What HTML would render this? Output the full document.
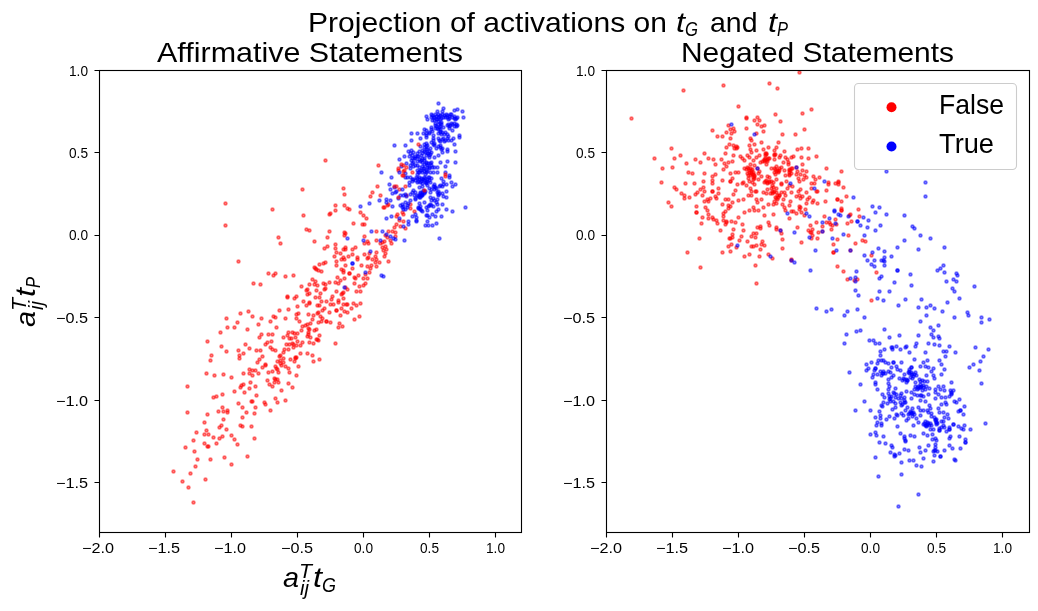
<!DOCTYPE html>
<html lang="en"><head><meta charset="utf-8"><title>Projection of activations on tG and tP</title>
<style>
html,body{margin:0;padding:0;background:#fff;}
body{width:1038px;height:611px;overflow:hidden;font-family:"Liberation Sans",sans-serif;}
svg{display:block;font-family:"Liberation Sans",sans-serif;}
text{fill:#000;}
.r circle{fill:#f00;fill-opacity:.5;stroke:#f00;stroke-opacity:.5;stroke-width:1.39;}
.b circle{fill:#00f;fill-opacity:.5;stroke:#00f;stroke-opacity:.5;stroke-width:1.39;}
.it{font-style:italic;}
.tx{filter:grayscale(1);}
</style></head><body>
<svg width="1038" height="611" viewBox="0 0 1038 611">
<rect x="0" y="0" width="1038" height="611" fill="#fff"/>
<!-- left panel: Affirmative Statements -->
<g id="left-panel">
<g class="r">
<circle cx="325.5" cy="160.5" r="1.55"/><circle cx="302.5" cy="189.5" r="1.55"/><circle cx="225.5" cy="203.5" r="1.55"/><circle cx="272.5" cy="209.5" r="1.55"/><circle cx="303.5" cy="215.5" r="1.55"/><circle cx="329.5" cy="214.5" r="1.55"/>
<circle cx="225.5" cy="225.5" r="1.55"/><circle cx="306.5" cy="229.5" r="1.55"/><circle cx="309.5" cy="230.5" r="1.55"/><circle cx="329.5" cy="231.5" r="1.55"/><circle cx="327.5" cy="237.5" r="1.55"/><circle cx="278.5" cy="237.5" r="1.55"/>
<circle cx="280.5" cy="243.5" r="1.55"/><circle cx="314.5" cy="241.5" r="1.55"/><circle cx="327.5" cy="246.5" r="1.55"/><circle cx="324.5" cy="248.5" r="1.55"/><circle cx="238.5" cy="261.5" r="1.55"/><circle cx="325.5" cy="262.5" r="1.55"/>
<circle cx="323.5" cy="263.5" r="1.55"/><circle cx="319.5" cy="264.5" r="1.55"/><circle cx="314.5" cy="267.5" r="1.55"/><circle cx="315.5" cy="268.5" r="1.55"/><circle cx="316.5" cy="269.5" r="1.55"/><circle cx="318.5" cy="270.5" r="1.55"/>
<circle cx="321.5" cy="271.5" r="1.55"/><circle cx="268.5" cy="273.5" r="1.55"/><circle cx="275.5" cy="273.5" r="1.55"/><circle cx="273.5" cy="275.5" r="1.55"/><circle cx="285.5" cy="276.5" r="1.55"/><circle cx="293.5" cy="275.5" r="1.55"/>
<circle cx="253.5" cy="283.5" r="1.55"/><circle cx="260.5" cy="284.5" r="1.55"/><circle cx="312.5" cy="279.5" r="1.55"/><circle cx="315.5" cy="281.5" r="1.55"/><circle cx="309.5" cy="284.5" r="1.55"/><circle cx="314.5" cy="284.5" r="1.55"/>
<circle cx="317.5" cy="285.5" r="1.55"/><circle cx="323.5" cy="283.5" r="1.55"/><circle cx="325.5" cy="284.5" r="1.55"/><circle cx="329.5" cy="282.5" r="1.55"/><circle cx="301.5" cy="286.5" r="1.55"/><circle cx="307.5" cy="289.5" r="1.55"/>
<circle cx="306.5" cy="290.5" r="1.55"/><circle cx="316.5" cy="290.5" r="1.55"/><circle cx="325.5" cy="288.5" r="1.55"/><circle cx="324.5" cy="289.5" r="1.55"/><circle cx="309.5" cy="293.5" r="1.55"/><circle cx="307.5" cy="294.5" r="1.55"/>
<circle cx="320.5" cy="293.5" r="1.55"/><circle cx="287.5" cy="296.5" r="1.55"/><circle cx="287.5" cy="297.5" r="1.55"/><circle cx="296.5" cy="296.5" r="1.55"/><circle cx="294.5" cy="298.5" r="1.55"/><circle cx="315.5" cy="297.5" r="1.55"/>
<circle cx="319.5" cy="297.5" r="1.55"/><circle cx="303.5" cy="301.5" r="1.55"/><circle cx="309.5" cy="302.5" r="1.55"/><circle cx="321.5" cy="301.5" r="1.55"/><circle cx="326.5" cy="301.5" r="1.55"/><circle cx="288.5" cy="309.5" r="1.55"/>
<circle cx="279.5" cy="310.5" r="1.55"/><circle cx="248.5" cy="311.5" r="1.55"/><circle cx="240.5" cy="313.5" r="1.55"/><circle cx="252.5" cy="316.5" r="1.55"/><circle cx="273.5" cy="316.5" r="1.55"/><circle cx="275.5" cy="317.5" r="1.55"/>
<circle cx="226.5" cy="318.5" r="1.55"/><circle cx="261.5" cy="318.5" r="1.55"/><circle cx="285.5" cy="318.5" r="1.55"/><circle cx="270.5" cy="321.5" r="1.55"/><circle cx="237.5" cy="322.5" r="1.55"/><circle cx="258.5" cy="324.5" r="1.55"/>
<circle cx="227.5" cy="327.5" r="1.55"/><circle cx="234.5" cy="327.5" r="1.55"/><circle cx="276.5" cy="327.5" r="1.55"/><circle cx="247.5" cy="329.5" r="1.55"/><circle cx="220.5" cy="332.5" r="1.55"/><circle cx="288.5" cy="332.5" r="1.55"/>
<circle cx="261.5" cy="334.5" r="1.55"/><circle cx="268.5" cy="334.5" r="1.55"/><circle cx="272.5" cy="334.5" r="1.55"/><circle cx="287.5" cy="335.5" r="1.55"/><circle cx="283.5" cy="337.5" r="1.55"/><circle cx="259.5" cy="337.5" r="1.55"/>
<circle cx="289.5" cy="338.5" r="1.55"/><circle cx="207.5" cy="341.5" r="1.55"/><circle cx="271.5" cy="341.5" r="1.55"/><circle cx="267.5" cy="342.5" r="1.55"/><circle cx="265.5" cy="344.5" r="1.55"/><circle cx="245.5" cy="344.5" r="1.55"/>
<circle cx="286.5" cy="344.5" r="1.55"/><circle cx="289.5" cy="344.5" r="1.55"/><circle cx="221.5" cy="346.5" r="1.55"/><circle cx="270.5" cy="347.5" r="1.55"/><circle cx="249.5" cy="348.5" r="1.55"/><circle cx="272.5" cy="349.5" r="1.55"/>
<circle cx="284.5" cy="349.5" r="1.55"/><circle cx="288.5" cy="349.5" r="1.55"/><circle cx="256.5" cy="350.5" r="1.55"/><circle cx="260.5" cy="350.5" r="1.55"/><circle cx="275.5" cy="350.5" r="1.55"/><circle cx="238.5" cy="350.5" r="1.55"/>
<circle cx="226.5" cy="351.5" r="1.55"/><circle cx="283.5" cy="352.5" r="1.55"/><circle cx="243.5" cy="353.5" r="1.55"/><circle cx="211.5" cy="355.5" r="1.55"/><circle cx="239.5" cy="355.5" r="1.55"/><circle cx="280.5" cy="355.5" r="1.55"/>
<circle cx="262.5" cy="356.5" r="1.55"/><circle cx="279.5" cy="356.5" r="1.55"/><circle cx="283.5" cy="358.5" r="1.55"/><circle cx="239.5" cy="358.5" r="1.55"/><circle cx="290.5" cy="359.5" r="1.55"/><circle cx="210.5" cy="360.5" r="1.55"/>
<circle cx="259.5" cy="359.5" r="1.55"/><circle cx="257.5" cy="362.5" r="1.55"/><circle cx="277.5" cy="361.5" r="1.55"/><circle cx="280.5" cy="360.5" r="1.55"/><circle cx="283.5" cy="362.5" r="1.55"/><circle cx="280.5" cy="363.5" r="1.55"/>
<circle cx="265.5" cy="364.5" r="1.55"/><circle cx="265.5" cy="365.5" r="1.55"/><circle cx="281.5" cy="365.5" r="1.55"/><circle cx="285.5" cy="366.5" r="1.55"/><circle cx="275.5" cy="366.5" r="1.55"/><circle cx="262.5" cy="367.5" r="1.55"/>
<circle cx="276.5" cy="368.5" r="1.55"/><circle cx="277.5" cy="369.5" r="1.55"/><circle cx="288.5" cy="368.5" r="1.55"/><circle cx="249.5" cy="369.5" r="1.55"/><circle cx="252.5" cy="370.5" r="1.55"/><circle cx="255.5" cy="370.5" r="1.55"/>
<circle cx="206.5" cy="373.5" r="1.55"/><circle cx="243.5" cy="373.5" r="1.55"/><circle cx="249.5" cy="373.5" r="1.55"/><circle cx="258.5" cy="373.5" r="1.55"/><circle cx="268.5" cy="372.5" r="1.55"/><circle cx="272.5" cy="371.5" r="1.55"/>
<circle cx="278.5" cy="372.5" r="1.55"/><circle cx="289.5" cy="372.5" r="1.55"/><circle cx="223.5" cy="374.5" r="1.55"/><circle cx="214.5" cy="375.5" r="1.55"/><circle cx="252.5" cy="375.5" r="1.55"/><circle cx="231.5" cy="377.5" r="1.55"/>
<circle cx="274.5" cy="378.5" r="1.55"/><circle cx="267.5" cy="380.5" r="1.55"/><circle cx="275.5" cy="379.5" r="1.55"/><circle cx="277.5" cy="379.5" r="1.55"/><circle cx="274.5" cy="382.5" r="1.55"/><circle cx="278.5" cy="382.5" r="1.55"/>
<circle cx="269.5" cy="384.5" r="1.55"/><circle cx="272.5" cy="386.5" r="1.55"/><circle cx="288.5" cy="383.5" r="1.55"/><circle cx="250.5" cy="382.5" r="1.55"/><circle cx="243.5" cy="384.5" r="1.55"/><circle cx="241.5" cy="385.5" r="1.55"/>
<circle cx="255.5" cy="386.5" r="1.55"/><circle cx="240.5" cy="387.5" r="1.55"/><circle cx="249.5" cy="388.5" r="1.55"/><circle cx="281.5" cy="390.5" r="1.55"/><circle cx="187.5" cy="386.5" r="1.55"/><circle cx="234.5" cy="391.5" r="1.55"/>
<circle cx="244.5" cy="392.5" r="1.55"/><circle cx="222.5" cy="394.5" r="1.55"/><circle cx="216.5" cy="396.5" r="1.55"/><circle cx="213.5" cy="397.5" r="1.55"/><circle cx="256.5" cy="395.5" r="1.55"/><circle cx="275.5" cy="398.5" r="1.55"/>
<circle cx="285.5" cy="400.5" r="1.55"/><circle cx="277.5" cy="402.5" r="1.55"/><circle cx="264.5" cy="402.5" r="1.55"/><circle cx="265.5" cy="404.5" r="1.55"/><circle cx="251.5" cy="401.5" r="1.55"/><circle cx="252.5" cy="401.5" r="1.55"/>
<circle cx="238.5" cy="403.5" r="1.55"/><circle cx="255.5" cy="407.5" r="1.55"/><circle cx="242.5" cy="407.5" r="1.55"/><circle cx="222.5" cy="407.5" r="1.55"/><circle cx="270.5" cy="410.5" r="1.55"/><circle cx="227.5" cy="410.5" r="1.55"/>
<circle cx="227.5" cy="412.5" r="1.55"/><circle cx="223.5" cy="411.5" r="1.55"/><circle cx="218.5" cy="411.5" r="1.55"/><circle cx="246.5" cy="412.5" r="1.55"/><circle cx="254.5" cy="413.5" r="1.55"/><circle cx="187.5" cy="412.5" r="1.55"/>
<circle cx="207.5" cy="414.5" r="1.55"/><circle cx="242.5" cy="417.5" r="1.55"/><circle cx="223.5" cy="419.5" r="1.55"/><circle cx="204.5" cy="422.5" r="1.55"/><circle cx="240.5" cy="425.5" r="1.55"/><circle cx="242.5" cy="426.5" r="1.55"/>
<circle cx="251.5" cy="426.5" r="1.55"/><circle cx="221.5" cy="425.5" r="1.55"/><circle cx="219.5" cy="427.5" r="1.55"/><circle cx="226.5" cy="429.5" r="1.55"/><circle cx="206.5" cy="430.5" r="1.55"/><circle cx="196.5" cy="432.5" r="1.55"/>
<circle cx="204.5" cy="434.5" r="1.55"/><circle cx="208.5" cy="434.5" r="1.55"/><circle cx="231.5" cy="435.5" r="1.55"/><circle cx="222.5" cy="436.5" r="1.55"/><circle cx="219.5" cy="438.5" r="1.55"/><circle cx="213.5" cy="437.5" r="1.55"/>
<circle cx="254.5" cy="438.5" r="1.55"/><circle cx="234.5" cy="439.5" r="1.55"/><circle cx="193.5" cy="440.5" r="1.55"/><circle cx="204.5" cy="443.5" r="1.55"/><circle cx="216.5" cy="443.5" r="1.55"/><circle cx="237.5" cy="444.5" r="1.55"/>
<circle cx="207.5" cy="446.5" r="1.55"/><circle cx="208.5" cy="446.5" r="1.55"/><circle cx="185.5" cy="447.5" r="1.55"/><circle cx="194.5" cy="451.5" r="1.55"/><circle cx="197.5" cy="459.5" r="1.55"/><circle cx="210.5" cy="459.5" r="1.55"/>
<circle cx="224.5" cy="457.5" r="1.55"/><circle cx="247.5" cy="456.5" r="1.55"/><circle cx="231.5" cy="464.5" r="1.55"/><circle cx="195.5" cy="466.5" r="1.55"/><circle cx="173.5" cy="471.5" r="1.55"/><circle cx="190.5" cy="473.5" r="1.55"/>
<circle cx="205.5" cy="479.5" r="1.55"/><circle cx="182.5" cy="481.5" r="1.55"/><circle cx="188.5" cy="487.5" r="1.55"/><circle cx="193.5" cy="502.5" r="1.55"/><circle cx="292.5" cy="387.5" r="1.55"/><circle cx="309.5" cy="303.5" r="1.55"/>
<circle cx="306.5" cy="305.5" r="1.55"/><circle cx="297.5" cy="306.5" r="1.55"/><circle cx="317.5" cy="305.5" r="1.55"/><circle cx="319.5" cy="305.5" r="1.55"/><circle cx="330.5" cy="304.5" r="1.55"/><circle cx="333.5" cy="304.5" r="1.55"/>
<circle cx="338.5" cy="302.5" r="1.55"/><circle cx="343.5" cy="304.5" r="1.55"/><circle cx="346.5" cy="304.5" r="1.55"/><circle cx="347.5" cy="304.5" r="1.55"/><circle cx="353.5" cy="303.5" r="1.55"/><circle cx="356.5" cy="305.5" r="1.55"/>
<circle cx="360.5" cy="303.5" r="1.55"/><circle cx="324.5" cy="308.5" r="1.55"/><circle cx="322.5" cy="310.5" r="1.55"/><circle cx="318.5" cy="312.5" r="1.55"/><circle cx="317.5" cy="313.5" r="1.55"/><circle cx="336.5" cy="310.5" r="1.55"/>
<circle cx="336.5" cy="310.5" r="1.55"/><circle cx="341.5" cy="308.5" r="1.55"/><circle cx="344.5" cy="311.5" r="1.55"/><circle cx="347.5" cy="312.5" r="1.55"/><circle cx="351.5" cy="308.5" r="1.55"/><circle cx="329.5" cy="312.5" r="1.55"/>
<circle cx="340.5" cy="315.5" r="1.55"/><circle cx="298.5" cy="313.5" r="1.55"/><circle cx="296.5" cy="314.5" r="1.55"/><circle cx="296.5" cy="318.5" r="1.55"/><circle cx="308.5" cy="314.5" r="1.55"/><circle cx="313.5" cy="315.5" r="1.55"/>
<circle cx="320.5" cy="316.5" r="1.55"/><circle cx="322.5" cy="318.5" r="1.55"/><circle cx="312.5" cy="319.5" r="1.55"/><circle cx="299.5" cy="321.5" r="1.55"/><circle cx="359.5" cy="316.5" r="1.55"/><circle cx="354.5" cy="319.5" r="1.55"/>
<circle cx="321.5" cy="321.5" r="1.55"/><circle cx="318.5" cy="322.5" r="1.55"/><circle cx="326.5" cy="321.5" r="1.55"/><circle cx="326.5" cy="321.5" r="1.55"/><circle cx="330.5" cy="322.5" r="1.55"/><circle cx="339.5" cy="323.5" r="1.55"/>
<circle cx="342.5" cy="326.5" r="1.55"/><circle cx="338.5" cy="327.5" r="1.55"/><circle cx="310.5" cy="323.5" r="1.55"/><circle cx="307.5" cy="324.5" r="1.55"/><circle cx="305.5" cy="325.5" r="1.55"/><circle cx="302.5" cy="326.5" r="1.55"/>
<circle cx="308.5" cy="328.5" r="1.55"/><circle cx="309.5" cy="329.5" r="1.55"/><circle cx="301.5" cy="330.5" r="1.55"/><circle cx="314.5" cy="330.5" r="1.55"/><circle cx="316.5" cy="329.5" r="1.55"/><circle cx="292.5" cy="332.5" r="1.55"/>
<circle cx="294.5" cy="333.5" r="1.55"/><circle cx="297.5" cy="333.5" r="1.55"/><circle cx="308.5" cy="332.5" r="1.55"/><circle cx="308.5" cy="334.5" r="1.55"/><circle cx="307.5" cy="336.5" r="1.55"/><circle cx="319.5" cy="335.5" r="1.55"/>
<circle cx="295.5" cy="337.5" r="1.55"/><circle cx="310.5" cy="337.5" r="1.55"/><circle cx="316.5" cy="339.5" r="1.55"/><circle cx="318.5" cy="340.5" r="1.55"/><circle cx="317.5" cy="339.5" r="1.55"/><circle cx="291.5" cy="338.5" r="1.55"/>
<circle cx="297.5" cy="341.5" r="1.55"/><circle cx="302.5" cy="342.5" r="1.55"/><circle cx="309.5" cy="342.5" r="1.55"/><circle cx="313.5" cy="343.5" r="1.55"/><circle cx="292.5" cy="343.5" r="1.55"/><circle cx="293.5" cy="344.5" r="1.55"/>
<circle cx="335.5" cy="343.5" r="1.55"/><circle cx="296.5" cy="345.5" r="1.55"/><circle cx="300.5" cy="345.5" r="1.55"/><circle cx="293.5" cy="347.5" r="1.55"/><circle cx="300.5" cy="353.5" r="1.55"/><circle cx="307.5" cy="353.5" r="1.55"/>
<circle cx="312.5" cy="355.5" r="1.55"/><circle cx="319.5" cy="359.5" r="1.55"/><circle cx="313.5" cy="361.5" r="1.55"/><circle cx="295.5" cy="357.5" r="1.55"/><circle cx="295.5" cy="358.5" r="1.55"/><circle cx="296.5" cy="357.5" r="1.55"/>
<circle cx="294.5" cy="361.5" r="1.55"/><circle cx="298.5" cy="366.5" r="1.55"/><circle cx="296.5" cy="375.5" r="1.55"/><circle cx="336.5" cy="261.5" r="1.55"/><circle cx="336.5" cy="265.5" r="1.55"/><circle cx="341.5" cy="259.5" r="1.55"/>
<circle cx="344.5" cy="259.5" r="1.55"/><circle cx="357.5" cy="259.5" r="1.55"/><circle cx="345.5" cy="265.5" r="1.55"/><circle cx="361.5" cy="265.5" r="1.55"/><circle cx="352.5" cy="268.5" r="1.55"/><circle cx="341.5" cy="269.5" r="1.55"/>
<circle cx="343.5" cy="270.5" r="1.55"/><circle cx="343.5" cy="272.5" r="1.55"/><circle cx="349.5" cy="273.5" r="1.55"/><circle cx="349.5" cy="273.5" r="1.55"/><circle cx="358.5" cy="275.5" r="1.55"/><circle cx="354.5" cy="277.5" r="1.55"/>
<circle cx="355.5" cy="278.5" r="1.55"/><circle cx="337.5" cy="277.5" r="1.55"/><circle cx="344.5" cy="278.5" r="1.55"/><circle cx="340.5" cy="280.5" r="1.55"/><circle cx="363.5" cy="278.5" r="1.55"/><circle cx="365.5" cy="274.5" r="1.55"/>
<circle cx="335.5" cy="282.5" r="1.55"/><circle cx="338.5" cy="283.5" r="1.55"/><circle cx="354.5" cy="283.5" r="1.55"/><circle cx="365.5" cy="283.5" r="1.55"/><circle cx="363.5" cy="285.5" r="1.55"/><circle cx="359.5" cy="286.5" r="1.55"/>
<circle cx="345.5" cy="287.5" r="1.55"/><circle cx="347.5" cy="289.5" r="1.55"/><circle cx="336.5" cy="291.5" r="1.55"/><circle cx="356.5" cy="291.5" r="1.55"/><circle cx="360.5" cy="291.5" r="1.55"/><circle cx="343.5" cy="292.5" r="1.55"/>
<circle cx="341.5" cy="294.5" r="1.55"/><circle cx="342.5" cy="293.5" r="1.55"/><circle cx="332.5" cy="296.5" r="1.55"/><circle cx="343.5" cy="298.5" r="1.55"/><circle cx="331.5" cy="299.5" r="1.55"/><circle cx="338.5" cy="300.5" r="1.55"/>
<circle cx="363.5" cy="215.5" r="1.55"/><circle cx="366.5" cy="218.5" r="1.55"/><circle cx="353.5" cy="223.5" r="1.55"/><circle cx="362.5" cy="224.5" r="1.55"/><circle cx="364.5" cy="224.5" r="1.55"/><circle cx="344.5" cy="232.5" r="1.55"/>
<circle cx="344.5" cy="235.5" r="1.55"/><circle cx="345.5" cy="233.5" r="1.55"/><circle cx="396.5" cy="216.5" r="1.55"/><circle cx="399.5" cy="220.5" r="1.55"/><circle cx="403.5" cy="221.5" r="1.55"/><circle cx="403.5" cy="214.5" r="1.55"/>
<circle cx="396.5" cy="224.5" r="1.55"/><circle cx="400.5" cy="226.5" r="1.55"/><circle cx="394.5" cy="227.5" r="1.55"/><circle cx="405.5" cy="228.5" r="1.55"/><circle cx="376.5" cy="231.5" r="1.55"/><circle cx="388.5" cy="231.5" r="1.55"/>
<circle cx="392.5" cy="231.5" r="1.55"/><circle cx="395.5" cy="232.5" r="1.55"/><circle cx="385.5" cy="235.5" r="1.55"/><circle cx="395.5" cy="236.5" r="1.55"/><circle cx="387.5" cy="237.5" r="1.55"/><circle cx="390.5" cy="240.5" r="1.55"/>
<circle cx="391.5" cy="243.5" r="1.55"/><circle cx="364.5" cy="236.5" r="1.55"/><circle cx="376.5" cy="240.5" r="1.55"/><circle cx="367.5" cy="241.5" r="1.55"/><circle cx="364.5" cy="243.5" r="1.55"/><circle cx="368.5" cy="243.5" r="1.55"/>
<circle cx="384.5" cy="241.5" r="1.55"/><circle cx="380.5" cy="243.5" r="1.55"/><circle cx="382.5" cy="242.5" r="1.55"/><circle cx="335.5" cy="244.5" r="1.55"/><circle cx="335.5" cy="248.5" r="1.55"/><circle cx="345.5" cy="247.5" r="1.55"/>
<circle cx="343.5" cy="249.5" r="1.55"/><circle cx="345.5" cy="249.5" r="1.55"/><circle cx="355.5" cy="247.5" r="1.55"/><circle cx="352.5" cy="249.5" r="1.55"/><circle cx="382.5" cy="247.5" r="1.55"/><circle cx="385.5" cy="246.5" r="1.55"/>
<circle cx="386.5" cy="249.5" r="1.55"/><circle cx="383.5" cy="250.5" r="1.55"/><circle cx="376.5" cy="252.5" r="1.55"/><circle cx="385.5" cy="253.5" r="1.55"/><circle cx="336.5" cy="252.5" r="1.55"/><circle cx="340.5" cy="253.5" r="1.55"/>
<circle cx="352.5" cy="254.5" r="1.55"/><circle cx="348.5" cy="256.5" r="1.55"/><circle cx="334.5" cy="256.5" r="1.55"/><circle cx="343.5" cy="257.5" r="1.55"/><circle cx="364.5" cy="254.5" r="1.55"/><circle cx="369.5" cy="253.5" r="1.55"/>
<circle cx="368.5" cy="257.5" r="1.55"/><circle cx="375.5" cy="256.5" r="1.55"/><circle cx="384.5" cy="256.5" r="1.55"/><circle cx="357.5" cy="257.5" r="1.55"/><circle cx="367.5" cy="258.5" r="1.55"/><circle cx="372.5" cy="259.5" r="1.55"/>
<circle cx="376.5" cy="259.5" r="1.55"/><circle cx="375.5" cy="262.5" r="1.55"/><circle cx="379.5" cy="262.5" r="1.55"/><circle cx="388.5" cy="261.5" r="1.55"/><circle cx="371.5" cy="265.5" r="1.55"/><circle cx="367.5" cy="266.5" r="1.55"/>
<circle cx="376.5" cy="266.5" r="1.55"/><circle cx="370.5" cy="268.5" r="1.55"/><circle cx="369.5" cy="272.5" r="1.55"/><circle cx="367.5" cy="278.5" r="1.55"/><circle cx="343.5" cy="188.5" r="1.55"/><circle cx="344.5" cy="194.5" r="1.55"/>
<circle cx="335.5" cy="205.5" r="1.55"/><circle cx="335.5" cy="210.5" r="1.55"/><circle cx="344.5" cy="205.5" r="1.55"/><circle cx="347.5" cy="208.5" r="1.55"/><circle cx="349.5" cy="209.5" r="1.55"/><circle cx="330.5" cy="213.5" r="1.55"/>
<circle cx="377.5" cy="186.5" r="1.55"/><circle cx="372.5" cy="192.5" r="1.55"/><circle cx="370.5" cy="196.5" r="1.55"/><circle cx="380.5" cy="195.5" r="1.55"/><circle cx="360.5" cy="212.5" r="1.55"/><circle cx="388.5" cy="204.5" r="1.55"/>
<circle cx="387.5" cy="205.5" r="1.55"/><circle cx="383.5" cy="207.5" r="1.55"/><circle cx="384.5" cy="207.5" r="1.55"/><circle cx="402.5" cy="175.5" r="1.55"/><circle cx="403.5" cy="171.5" r="1.55"/><circle cx="398.5" cy="170.5" r="1.55"/>
<circle cx="399.5" cy="189.5" r="1.55"/><circle cx="405.5" cy="186.5" r="1.55"/><circle cx="402.5" cy="212.5" r="1.55"/><circle cx="396.5" cy="186.5" r="1.55"/><circle cx="414.5" cy="211.5" r="1.55"/><circle cx="410.5" cy="208.5" r="1.55"/>
<circle cx="410.5" cy="204.5" r="1.55"/><circle cx="445.5" cy="176.5" r="1.55"/><circle cx="397.5" cy="214.5" r="1.55"/><circle cx="406.5" cy="195.5" r="1.55"/><circle cx="378.5" cy="165.5" r="1.55"/>
</g>
<g class="b">
<circle cx="352.5" cy="263.5" r="1.55"/><circle cx="352.5" cy="263.5" r="1.55"/><circle cx="344.5" cy="287.5" r="1.55"/><circle cx="365.5" cy="272.5" r="1.55"/><circle cx="386.5" cy="218.5" r="1.55"/><circle cx="391.5" cy="216.5" r="1.55"/>
<circle cx="399.5" cy="218.5" r="1.55"/><circle cx="403.5" cy="226.5" r="1.55"/><circle cx="371.5" cy="231.5" r="1.55"/><circle cx="382.5" cy="231.5" r="1.55"/><circle cx="386.5" cy="234.5" r="1.55"/><circle cx="390.5" cy="236.5" r="1.55"/>
<circle cx="393.5" cy="238.5" r="1.55"/><circle cx="395.5" cy="239.5" r="1.55"/><circle cx="404.5" cy="240.5" r="1.55"/><circle cx="347.5" cy="238.5" r="1.55"/><circle cx="363.5" cy="240.5" r="1.55"/><circle cx="380.5" cy="240.5" r="1.55"/>
<circle cx="370.5" cy="251.5" r="1.55"/><circle cx="381.5" cy="275.5" r="1.55"/><circle cx="383.5" cy="276.5" r="1.55"/><circle cx="381.5" cy="172.5" r="1.55"/><circle cx="399.5" cy="172.5" r="1.55"/><circle cx="391.5" cy="177.5" r="1.55"/>
<circle cx="389.5" cy="184.5" r="1.55"/><circle cx="390.5" cy="189.5" r="1.55"/><circle cx="394.5" cy="187.5" r="1.55"/><circle cx="402.5" cy="189.5" r="1.55"/><circle cx="396.5" cy="191.5" r="1.55"/><circle cx="392.5" cy="193.5" r="1.55"/>
<circle cx="395.5" cy="192.5" r="1.55"/><circle cx="386.5" cy="199.5" r="1.55"/><circle cx="390.5" cy="200.5" r="1.55"/><circle cx="379.5" cy="200.5" r="1.55"/><circle cx="386.5" cy="202.5" r="1.55"/><circle cx="392.5" cy="206.5" r="1.55"/>
<circle cx="398.5" cy="198.5" r="1.55"/><circle cx="400.5" cy="195.5" r="1.55"/><circle cx="403.5" cy="195.5" r="1.55"/><circle cx="405.5" cy="194.5" r="1.55"/><circle cx="369.5" cy="203.5" r="1.55"/><circle cx="360.5" cy="206.5" r="1.55"/>
<circle cx="400.5" cy="205.5" r="1.55"/><circle cx="402.5" cy="204.5" r="1.55"/><circle cx="405.5" cy="202.5" r="1.55"/><circle cx="402.5" cy="207.5" r="1.55"/><circle cx="403.5" cy="206.5" r="1.55"/><circle cx="403.5" cy="209.5" r="1.55"/>
<circle cx="405.5" cy="209.5" r="1.55"/><circle cx="405.5" cy="177.5" r="1.55"/><circle cx="412.5" cy="216.5" r="1.55"/><circle cx="416.5" cy="217.5" r="1.55"/><circle cx="416.5" cy="221.5" r="1.55"/><circle cx="416.5" cy="220.5" r="1.55"/>
<circle cx="408.5" cy="221.5" r="1.55"/><circle cx="408.5" cy="224.5" r="1.55"/><circle cx="415.5" cy="214.5" r="1.55"/><circle cx="426.5" cy="215.5" r="1.55"/><circle cx="427.5" cy="215.5" r="1.55"/><circle cx="429.5" cy="217.5" r="1.55"/>
<circle cx="432.5" cy="214.5" r="1.55"/><circle cx="435.5" cy="216.5" r="1.55"/><circle cx="441.5" cy="216.5" r="1.55"/><circle cx="427.5" cy="221.5" r="1.55"/><circle cx="425.5" cy="225.5" r="1.55"/><circle cx="428.5" cy="225.5" r="1.55"/>
<circle cx="432.5" cy="225.5" r="1.55"/><circle cx="436.5" cy="223.5" r="1.55"/><circle cx="439.5" cy="238.5" r="1.55"/><circle cx="441.5" cy="178.5" r="1.55"/><circle cx="443.5" cy="181.5" r="1.55"/><circle cx="449.5" cy="177.5" r="1.55"/>
<circle cx="451.5" cy="182.5" r="1.55"/><circle cx="455.5" cy="184.5" r="1.55"/><circle cx="452.5" cy="186.5" r="1.55"/><circle cx="446.5" cy="184.5" r="1.55"/><circle cx="446.5" cy="191.5" r="1.55"/><circle cx="442.5" cy="186.5" r="1.55"/>
<circle cx="439.5" cy="186.5" r="1.55"/><circle cx="434.5" cy="184.5" r="1.55"/><circle cx="434.5" cy="186.5" r="1.55"/><circle cx="431.5" cy="178.5" r="1.55"/><circle cx="426.5" cy="182.5" r="1.55"/><circle cx="430.5" cy="182.5" r="1.55"/>
<circle cx="429.5" cy="177.5" r="1.55"/><circle cx="417.5" cy="178.5" r="1.55"/><circle cx="419.5" cy="177.5" r="1.55"/><circle cx="422.5" cy="179.5" r="1.55"/><circle cx="424.5" cy="177.5" r="1.55"/><circle cx="427.5" cy="179.5" r="1.55"/>
<circle cx="418.5" cy="181.5" r="1.55"/><circle cx="421.5" cy="181.5" r="1.55"/><circle cx="424.5" cy="180.5" r="1.55"/><circle cx="426.5" cy="183.5" r="1.55"/><circle cx="415.5" cy="180.5" r="1.55"/><circle cx="412.5" cy="181.5" r="1.55"/>
<circle cx="409.5" cy="182.5" r="1.55"/><circle cx="407.5" cy="177.5" r="1.55"/><circle cx="410.5" cy="177.5" r="1.55"/><circle cx="409.5" cy="185.5" r="1.55"/><circle cx="419.5" cy="187.5" r="1.55"/><circle cx="413.5" cy="190.5" r="1.55"/>
<circle cx="422.5" cy="186.5" r="1.55"/><circle cx="427.5" cy="185.5" r="1.55"/><circle cx="429.5" cy="188.5" r="1.55"/><circle cx="431.5" cy="189.5" r="1.55"/><circle cx="430.5" cy="192.5" r="1.55"/><circle cx="434.5" cy="189.5" r="1.55"/>
<circle cx="436.5" cy="188.5" r="1.55"/><circle cx="438.5" cy="191.5" r="1.55"/><circle cx="438.5" cy="194.5" r="1.55"/><circle cx="442.5" cy="193.5" r="1.55"/><circle cx="443.5" cy="196.5" r="1.55"/><circle cx="446.5" cy="197.5" r="1.55"/>
<circle cx="420.5" cy="192.5" r="1.55"/><circle cx="422.5" cy="194.5" r="1.55"/><circle cx="424.5" cy="192.5" r="1.55"/><circle cx="421.5" cy="195.5" r="1.55"/><circle cx="419.5" cy="197.5" r="1.55"/><circle cx="417.5" cy="195.5" r="1.55"/>
<circle cx="423.5" cy="190.5" r="1.55"/><circle cx="415.5" cy="192.5" r="1.55"/><circle cx="412.5" cy="192.5" r="1.55"/><circle cx="410.5" cy="194.5" r="1.55"/><circle cx="414.5" cy="195.5" r="1.55"/><circle cx="415.5" cy="198.5" r="1.55"/>
<circle cx="415.5" cy="199.5" r="1.55"/><circle cx="406.5" cy="196.5" r="1.55"/><circle cx="410.5" cy="200.5" r="1.55"/><circle cx="430.5" cy="197.5" r="1.55"/><circle cx="433.5" cy="198.5" r="1.55"/><circle cx="437.5" cy="199.5" r="1.55"/>
<circle cx="431.5" cy="200.5" r="1.55"/><circle cx="434.5" cy="200.5" r="1.55"/><circle cx="436.5" cy="202.5" r="1.55"/><circle cx="437.5" cy="204.5" r="1.55"/><circle cx="419.5" cy="203.5" r="1.55"/><circle cx="424.5" cy="202.5" r="1.55"/>
<circle cx="442.5" cy="204.5" r="1.55"/><circle cx="431.5" cy="205.5" r="1.55"/><circle cx="429.5" cy="205.5" r="1.55"/><circle cx="433.5" cy="206.5" r="1.55"/><circle cx="426.5" cy="207.5" r="1.55"/><circle cx="427.5" cy="210.5" r="1.55"/>
<circle cx="420.5" cy="206.5" r="1.55"/><circle cx="418.5" cy="208.5" r="1.55"/><circle cx="420.5" cy="209.5" r="1.55"/><circle cx="422.5" cy="211.5" r="1.55"/><circle cx="438.5" cy="209.5" r="1.55"/><circle cx="436.5" cy="211.5" r="1.55"/>
<circle cx="446.5" cy="209.5" r="1.55"/><circle cx="452.5" cy="211.5" r="1.55"/><circle cx="407.5" cy="205.5" r="1.55"/><circle cx="407.5" cy="207.5" r="1.55"/><circle cx="408.5" cy="203.5" r="1.55"/><circle cx="416.5" cy="177.5" r="1.55"/>
<circle cx="419.5" cy="179.5" r="1.55"/><circle cx="421.5" cy="178.5" r="1.55"/><circle cx="423.5" cy="179.5" r="1.55"/><circle cx="425.5" cy="178.5" r="1.55"/><circle cx="428.5" cy="177.5" r="1.55"/><circle cx="420.5" cy="182.5" r="1.55"/>
<circle cx="422.5" cy="183.5" r="1.55"/><circle cx="425.5" cy="182.5" r="1.55"/><circle cx="427.5" cy="181.5" r="1.55"/><circle cx="429.5" cy="180.5" r="1.55"/><circle cx="413.5" cy="179.5" r="1.55"/><circle cx="412.5" cy="179.5" r="1.55"/>
<circle cx="417.5" cy="182.5" r="1.55"/><circle cx="420.5" cy="193.5" r="1.55"/><circle cx="422.5" cy="192.5" r="1.55"/><circle cx="424.5" cy="193.5" r="1.55"/><circle cx="421.5" cy="195.5" r="1.55"/><circle cx="422.5" cy="195.5" r="1.55"/>
<circle cx="419.5" cy="195.5" r="1.55"/><circle cx="420.5" cy="197.5" r="1.55"/><circle cx="418.5" cy="196.5" r="1.55"/><circle cx="425.5" cy="191.5" r="1.55"/><circle cx="437.5" cy="192.5" r="1.55"/><circle cx="439.5" cy="193.5" r="1.55"/>
<circle cx="438.5" cy="195.5" r="1.55"/><circle cx="418.5" cy="207.5" r="1.55"/><circle cx="419.5" cy="208.5" r="1.55"/><circle cx="421.5" cy="210.5" r="1.55"/><circle cx="430.5" cy="204.5" r="1.55"/><circle cx="428.5" cy="206.5" r="1.55"/>
<circle cx="433.5" cy="186.5" r="1.55"/><circle cx="435.5" cy="187.5" r="1.55"/><circle cx="440.5" cy="185.5" r="1.55"/><circle cx="443.5" cy="184.5" r="1.55"/><circle cx="411.5" cy="140.5" r="1.55"/><circle cx="420.5" cy="138.5" r="1.55"/>
<circle cx="405.5" cy="145.5" r="1.55"/><circle cx="426.5" cy="137.5" r="1.55"/><circle cx="433.5" cy="138.5" r="1.55"/><circle cx="431.5" cy="142.5" r="1.55"/><circle cx="434.5" cy="143.5" r="1.55"/><circle cx="426.5" cy="143.5" r="1.55"/>
<circle cx="439.5" cy="140.5" r="1.55"/><circle cx="442.5" cy="139.5" r="1.55"/><circle cx="444.5" cy="141.5" r="1.55"/><circle cx="447.5" cy="138.5" r="1.55"/><circle cx="451.5" cy="140.5" r="1.55"/><circle cx="453.5" cy="138.5" r="1.55"/>
<circle cx="454.5" cy="144.5" r="1.55"/><circle cx="459.5" cy="137.5" r="1.55"/><circle cx="420.5" cy="146.5" r="1.55"/><circle cx="424.5" cy="147.5" r="1.55"/><circle cx="427.5" cy="145.5" r="1.55"/><circle cx="430.5" cy="148.5" r="1.55"/>
<circle cx="436.5" cy="148.5" r="1.55"/><circle cx="440.5" cy="147.5" r="1.55"/><circle cx="442.5" cy="148.5" r="1.55"/><circle cx="447.5" cy="149.5" r="1.55"/><circle cx="447.5" cy="151.5" r="1.55"/><circle cx="455.5" cy="151.5" r="1.55"/>
<circle cx="442.5" cy="152.5" r="1.55"/><circle cx="438.5" cy="155.5" r="1.55"/><circle cx="408.5" cy="151.5" r="1.55"/><circle cx="411.5" cy="150.5" r="1.55"/><circle cx="413.5" cy="152.5" r="1.55"/><circle cx="409.5" cy="156.5" r="1.55"/>
<circle cx="404.5" cy="156.5" r="1.55"/><circle cx="399.5" cy="159.5" r="1.55"/><circle cx="417.5" cy="153.5" r="1.55"/><circle cx="419.5" cy="151.5" r="1.55"/><circle cx="422.5" cy="150.5" r="1.55"/><circle cx="425.5" cy="152.5" r="1.55"/>
<circle cx="428.5" cy="153.5" r="1.55"/><circle cx="430.5" cy="154.5" r="1.55"/><circle cx="429.5" cy="157.5" r="1.55"/><circle cx="434.5" cy="157.5" r="1.55"/><circle cx="426.5" cy="155.5" r="1.55"/><circle cx="421.5" cy="155.5" r="1.55"/>
<circle cx="418.5" cy="156.5" r="1.55"/><circle cx="415.5" cy="158.5" r="1.55"/><circle cx="415.5" cy="156.5" r="1.55"/><circle cx="411.5" cy="160.5" r="1.55"/><circle cx="413.5" cy="162.5" r="1.55"/><circle cx="406.5" cy="163.5" r="1.55"/>
<circle cx="421.5" cy="160.5" r="1.55"/><circle cx="424.5" cy="158.5" r="1.55"/><circle cx="426.5" cy="162.5" r="1.55"/><circle cx="428.5" cy="163.5" r="1.55"/><circle cx="431.5" cy="162.5" r="1.55"/><circle cx="431.5" cy="165.5" r="1.55"/>
<circle cx="440.5" cy="162.5" r="1.55"/><circle cx="447.5" cy="161.5" r="1.55"/><circle cx="455.5" cy="162.5" r="1.55"/><circle cx="445.5" cy="166.5" r="1.55"/><circle cx="437.5" cy="167.5" r="1.55"/><circle cx="434.5" cy="167.5" r="1.55"/>
<circle cx="432.5" cy="167.5" r="1.55"/><circle cx="410.5" cy="165.5" r="1.55"/><circle cx="413.5" cy="166.5" r="1.55"/><circle cx="417.5" cy="165.5" r="1.55"/><circle cx="410.5" cy="168.5" r="1.55"/><circle cx="422.5" cy="166.5" r="1.55"/>
<circle cx="424.5" cy="168.5" r="1.55"/><circle cx="427.5" cy="167.5" r="1.55"/><circle cx="429.5" cy="168.5" r="1.55"/><circle cx="421.5" cy="170.5" r="1.55"/><circle cx="424.5" cy="171.5" r="1.55"/><circle cx="426.5" cy="172.5" r="1.55"/>
<circle cx="419.5" cy="172.5" r="1.55"/><circle cx="417.5" cy="170.5" r="1.55"/><circle cx="417.5" cy="174.5" r="1.55"/><circle cx="430.5" cy="172.5" r="1.55"/><circle cx="433.5" cy="172.5" r="1.55"/><circle cx="437.5" cy="172.5" r="1.55"/>
<circle cx="445.5" cy="172.5" r="1.55"/><circle cx="405.5" cy="173.5" r="1.55"/><circle cx="449.5" cy="175.5" r="1.55"/><circle cx="424.5" cy="144.5" r="1.55"/><circle cx="426.5" cy="146.5" r="1.55"/><circle cx="426.5" cy="149.5" r="1.55"/>
<circle cx="427.5" cy="149.5" r="1.55"/><circle cx="429.5" cy="151.5" r="1.55"/><circle cx="427.5" cy="153.5" r="1.55"/><circle cx="429.5" cy="155.5" r="1.55"/><circle cx="431.5" cy="152.5" r="1.55"/><circle cx="424.5" cy="151.5" r="1.55"/>
<circle cx="422.5" cy="153.5" r="1.55"/><circle cx="433.5" cy="140.5" r="1.55"/><circle cx="434.5" cy="145.5" r="1.55"/><circle cx="433.5" cy="144.5" r="1.55"/><circle cx="438.5" cy="138.5" r="1.55"/><circle cx="440.5" cy="141.5" r="1.55"/>
<circle cx="443.5" cy="138.5" r="1.55"/><circle cx="445.5" cy="140.5" r="1.55"/><circle cx="448.5" cy="140.5" r="1.55"/><circle cx="438.5" cy="146.5" r="1.55"/><circle cx="441.5" cy="149.5" r="1.55"/><circle cx="440.5" cy="145.5" r="1.55"/>
<circle cx="410.5" cy="153.5" r="1.55"/><circle cx="412.5" cy="155.5" r="1.55"/><circle cx="414.5" cy="158.5" r="1.55"/><circle cx="412.5" cy="158.5" r="1.55"/><circle cx="417.5" cy="156.5" r="1.55"/><circle cx="419.5" cy="159.5" r="1.55"/>
<circle cx="422.5" cy="158.5" r="1.55"/><circle cx="424.5" cy="160.5" r="1.55"/><circle cx="420.5" cy="161.5" r="1.55"/><circle cx="417.5" cy="161.5" r="1.55"/><circle cx="422.5" cy="162.5" r="1.55"/><circle cx="424.5" cy="164.5" r="1.55"/>
<circle cx="426.5" cy="163.5" r="1.55"/><circle cx="427.5" cy="165.5" r="1.55"/><circle cx="429.5" cy="167.5" r="1.55"/><circle cx="426.5" cy="170.5" r="1.55"/><circle cx="427.5" cy="171.5" r="1.55"/><circle cx="423.5" cy="168.5" r="1.55"/>
<circle cx="422.5" cy="172.5" r="1.55"/><circle cx="425.5" cy="174.5" r="1.55"/><circle cx="420.5" cy="170.5" r="1.55"/><circle cx="418.5" cy="172.5" r="1.55"/><circle cx="430.5" cy="163.5" r="1.55"/><circle cx="419.5" cy="167.5" r="1.55"/>
<circle cx="412.5" cy="163.5" r="1.55"/><circle cx="415.5" cy="165.5" r="1.55"/><circle cx="438.5" cy="103.5" r="1.55"/><circle cx="443.5" cy="108.5" r="1.55"/><circle cx="442.5" cy="111.5" r="1.55"/><circle cx="437.5" cy="111.5" r="1.55"/>
<circle cx="431.5" cy="114.5" r="1.55"/><circle cx="426.5" cy="116.5" r="1.55"/><circle cx="427.5" cy="119.5" r="1.55"/><circle cx="432.5" cy="120.5" r="1.55"/><circle cx="431.5" cy="117.5" r="1.55"/><circle cx="435.5" cy="114.5" r="1.55"/>
<circle cx="438.5" cy="114.5" r="1.55"/><circle cx="440.5" cy="115.5" r="1.55"/><circle cx="438.5" cy="117.5" r="1.55"/><circle cx="436.5" cy="119.5" r="1.55"/><circle cx="442.5" cy="114.5" r="1.55"/><circle cx="446.5" cy="114.5" r="1.55"/>
<circle cx="449.5" cy="116.5" r="1.55"/><circle cx="451.5" cy="114.5" r="1.55"/><circle cx="454.5" cy="110.5" r="1.55"/><circle cx="457.5" cy="109.5" r="1.55"/><circle cx="462.5" cy="111.5" r="1.55"/><circle cx="463.5" cy="117.5" r="1.55"/>
<circle cx="457.5" cy="117.5" r="1.55"/><circle cx="455.5" cy="119.5" r="1.55"/><circle cx="454.5" cy="116.5" r="1.55"/><circle cx="448.5" cy="119.5" r="1.55"/><circle cx="445.5" cy="117.5" r="1.55"/><circle cx="444.5" cy="115.5" r="1.55"/>
<circle cx="438.5" cy="121.5" r="1.55"/><circle cx="435.5" cy="123.5" r="1.55"/><circle cx="440.5" cy="123.5" r="1.55"/><circle cx="441.5" cy="122.5" r="1.55"/><circle cx="440.5" cy="126.5" r="1.55"/><circle cx="436.5" cy="126.5" r="1.55"/>
<circle cx="447.5" cy="125.5" r="1.55"/><circle cx="449.5" cy="126.5" r="1.55"/><circle cx="452.5" cy="124.5" r="1.55"/><circle cx="454.5" cy="123.5" r="1.55"/><circle cx="457.5" cy="125.5" r="1.55"/><circle cx="456.5" cy="126.5" r="1.55"/>
<circle cx="449.5" cy="128.5" r="1.55"/><circle cx="452.5" cy="130.5" r="1.55"/><circle cx="431.5" cy="127.5" r="1.55"/><circle cx="424.5" cy="129.5" r="1.55"/><circle cx="426.5" cy="130.5" r="1.55"/><circle cx="432.5" cy="131.5" r="1.55"/>
<circle cx="438.5" cy="129.5" r="1.55"/><circle cx="440.5" cy="129.5" r="1.55"/><circle cx="435.5" cy="128.5" r="1.55"/><circle cx="411.5" cy="133.5" r="1.55"/><circle cx="417.5" cy="133.5" r="1.55"/><circle cx="423.5" cy="133.5" r="1.55"/>
<circle cx="426.5" cy="135.5" r="1.55"/><circle cx="429.5" cy="133.5" r="1.55"/><circle cx="433.5" cy="135.5" r="1.55"/><circle cx="438.5" cy="133.5" r="1.55"/><circle cx="441.5" cy="134.5" r="1.55"/><circle cx="440.5" cy="132.5" r="1.55"/>
<circle cx="445.5" cy="132.5" r="1.55"/><circle cx="447.5" cy="134.5" r="1.55"/><circle cx="448.5" cy="136.5" r="1.55"/><circle cx="459.5" cy="135.5" r="1.55"/><circle cx="432.5" cy="115.5" r="1.55"/><circle cx="434.5" cy="117.5" r="1.55"/>
<circle cx="436.5" cy="116.5" r="1.55"/><circle cx="439.5" cy="116.5" r="1.55"/><circle cx="437.5" cy="119.5" r="1.55"/><circle cx="434.5" cy="120.5" r="1.55"/><circle cx="440.5" cy="119.5" r="1.55"/><circle cx="441.5" cy="118.5" r="1.55"/>
<circle cx="443.5" cy="117.5" r="1.55"/><circle cx="435.5" cy="125.5" r="1.55"/><circle cx="438.5" cy="124.5" r="1.55"/><circle cx="439.5" cy="127.5" r="1.55"/><circle cx="437.5" cy="128.5" r="1.55"/><circle cx="441.5" cy="124.5" r="1.55"/>
<circle cx="443.5" cy="127.5" r="1.55"/><circle cx="433.5" cy="117.5" r="1.55"/><circle cx="447.5" cy="115.5" r="1.55"/><circle cx="450.5" cy="114.5" r="1.55"/><circle cx="452.5" cy="117.5" r="1.55"/><circle cx="454.5" cy="118.5" r="1.55"/>
<circle cx="456.5" cy="118.5" r="1.55"/><circle cx="449.5" cy="118.5" r="1.55"/><circle cx="447.5" cy="117.5" r="1.55"/><circle cx="448.5" cy="124.5" r="1.55"/><circle cx="450.5" cy="125.5" r="1.55"/><circle cx="454.5" cy="126.5" r="1.55"/>
<circle cx="456.5" cy="124.5" r="1.55"/><circle cx="451.5" cy="123.5" r="1.55"/><circle cx="440.5" cy="131.5" r="1.55"/><circle cx="442.5" cy="132.5" r="1.55"/><circle cx="444.5" cy="134.5" r="1.55"/><circle cx="429.5" cy="132.5" r="1.55"/>
<circle cx="426.5" cy="133.5" r="1.55"/><circle cx="431.5" cy="129.5" r="1.55"/><circle cx="465.5" cy="207.5" r="1.55"/><circle cx="394.5" cy="145.5" r="1.55"/><circle cx="401.5" cy="166.5" r="1.55"/>
</g>
<g class="r">
<circle cx="394.5" cy="186.5" r="1.55"/><circle cx="398.5" cy="197.5" r="1.55"/><circle cx="424.5" cy="190.5" r="1.55"/><circle cx="418.5" cy="144.5" r="1.55"/><circle cx="401.5" cy="164.5" r="1.55"/><circle cx="403.5" cy="165.5" r="1.55"/>
<circle cx="406.5" cy="167.5" r="1.55"/><circle cx="398.5" cy="168.5" r="1.55"/><circle cx="404.5" cy="170.5" r="1.55"/><circle cx="412.5" cy="172.5" r="1.55"/><circle cx="403.5" cy="175.5" r="1.55"/><circle cx="445.5" cy="174.5" r="1.55"/>
</g>
</g>
<!-- right panel: Negated Statements -->
<g id="right-panel">
<g class="b">
</g>
<g class="r">
<circle cx="723.5" cy="85.5" r="1.55"/><circle cx="683.5" cy="90.5" r="1.55"/><circle cx="738.5" cy="106.5" r="1.55"/><circle cx="631.5" cy="118.5" r="1.55"/><circle cx="746.5" cy="117.5" r="1.55"/><circle cx="746.5" cy="118.5" r="1.55"/>
<circle cx="728.5" cy="125.5" r="1.55"/><circle cx="733.5" cy="128.5" r="1.55"/><circle cx="730.5" cy="129.5" r="1.55"/><circle cx="734.5" cy="131.5" r="1.55"/><circle cx="731.5" cy="133.5" r="1.55"/><circle cx="746.5" cy="128.5" r="1.55"/>
<circle cx="712.5" cy="130.5" r="1.55"/><circle cx="726.5" cy="132.5" r="1.55"/><circle cx="717.5" cy="136.5" r="1.55"/><circle cx="722.5" cy="136.5" r="1.55"/><circle cx="730.5" cy="138.5" r="1.55"/><circle cx="750.5" cy="138.5" r="1.55"/>
<circle cx="729.5" cy="144.5" r="1.55"/><circle cx="733.5" cy="145.5" r="1.55"/><circle cx="736.5" cy="146.5" r="1.55"/><circle cx="749.5" cy="145.5" r="1.55"/><circle cx="799.5" cy="72.5" r="1.55"/><circle cx="769.5" cy="83.5" r="1.55"/>
<circle cx="777.5" cy="88.5" r="1.55"/><circle cx="811.5" cy="109.5" r="1.55"/><circle cx="802.5" cy="113.5" r="1.55"/><circle cx="775.5" cy="114.5" r="1.55"/><circle cx="757.5" cy="117.5" r="1.55"/><circle cx="754.5" cy="120.5" r="1.55"/>
<circle cx="759.5" cy="120.5" r="1.55"/><circle cx="780.5" cy="121.5" r="1.55"/><circle cx="757.5" cy="124.5" r="1.55"/><circle cx="764.5" cy="125.5" r="1.55"/><circle cx="761.5" cy="126.5" r="1.55"/><circle cx="804.5" cy="129.5" r="1.55"/>
<circle cx="763.5" cy="131.5" r="1.55"/><circle cx="756.5" cy="133.5" r="1.55"/><circle cx="782.5" cy="134.5" r="1.55"/><circle cx="795.5" cy="134.5" r="1.55"/><circle cx="761.5" cy="142.5" r="1.55"/><circle cx="778.5" cy="142.5" r="1.55"/>
<circle cx="754.5" cy="144.5" r="1.55"/><circle cx="768.5" cy="147.5" r="1.55"/><circle cx="776.5" cy="147.5" r="1.55"/><circle cx="671.5" cy="148.5" r="1.55"/><circle cx="654.5" cy="158.5" r="1.55"/><circle cx="680.5" cy="155.5" r="1.55"/>
<circle cx="674.5" cy="158.5" r="1.55"/><circle cx="704.5" cy="153.5" r="1.55"/><circle cx="695.5" cy="159.5" r="1.55"/><circle cx="708.5" cy="158.5" r="1.55"/><circle cx="713.5" cy="159.5" r="1.55"/><circle cx="700.5" cy="162.5" r="1.55"/>
<circle cx="686.5" cy="163.5" r="1.55"/><circle cx="715.5" cy="164.5" r="1.55"/><circle cx="672.5" cy="167.5" r="1.55"/><circle cx="662.5" cy="168.5" r="1.55"/><circle cx="688.5" cy="172.5" r="1.55"/><circle cx="692.5" cy="173.5" r="1.55"/>
<circle cx="704.5" cy="173.5" r="1.55"/><circle cx="715.5" cy="174.5" r="1.55"/><circle cx="712.5" cy="176.5" r="1.55"/><circle cx="703.5" cy="181.5" r="1.55"/><circle cx="712.5" cy="180.5" r="1.55"/><circle cx="661.5" cy="182.5" r="1.55"/>
<circle cx="685.5" cy="183.5" r="1.55"/><circle cx="694.5" cy="183.5" r="1.55"/><circle cx="712.5" cy="183.5" r="1.55"/><circle cx="722.5" cy="180.5" r="1.55"/><circle cx="730.5" cy="181.5" r="1.55"/><circle cx="730.5" cy="181.5" r="1.55"/>
<circle cx="737.5" cy="184.5" r="1.55"/><circle cx="742.5" cy="183.5" r="1.55"/><circle cx="743.5" cy="182.5" r="1.55"/><circle cx="746.5" cy="185.5" r="1.55"/><circle cx="749.5" cy="181.5" r="1.55"/><circle cx="674.5" cy="187.5" r="1.55"/>
<circle cx="676.5" cy="189.5" r="1.55"/><circle cx="703.5" cy="187.5" r="1.55"/><circle cx="700.5" cy="189.5" r="1.55"/><circle cx="704.5" cy="191.5" r="1.55"/><circle cx="697.5" cy="192.5" r="1.55"/><circle cx="695.5" cy="194.5" r="1.55"/>
<circle cx="702.5" cy="195.5" r="1.55"/><circle cx="718.5" cy="188.5" r="1.55"/><circle cx="712.5" cy="191.5" r="1.55"/><circle cx="712.5" cy="191.5" r="1.55"/><circle cx="718.5" cy="193.5" r="1.55"/><circle cx="735.5" cy="190.5" r="1.55"/>
<circle cx="750.5" cy="188.5" r="1.55"/><circle cx="681.5" cy="193.5" r="1.55"/><circle cx="684.5" cy="195.5" r="1.55"/><circle cx="684.5" cy="198.5" r="1.55"/><circle cx="689.5" cy="197.5" r="1.55"/><circle cx="733.5" cy="194.5" r="1.55"/>
<circle cx="748.5" cy="195.5" r="1.55"/><circle cx="715.5" cy="196.5" r="1.55"/><circle cx="716.5" cy="198.5" r="1.55"/><circle cx="710.5" cy="198.5" r="1.55"/><circle cx="707.5" cy="199.5" r="1.55"/><circle cx="708.5" cy="201.5" r="1.55"/>
<circle cx="704.5" cy="201.5" r="1.55"/><circle cx="725.5" cy="199.5" r="1.55"/><circle cx="728.5" cy="199.5" r="1.55"/><circle cx="738.5" cy="200.5" r="1.55"/><circle cx="743.5" cy="199.5" r="1.55"/><circle cx="668.5" cy="202.5" r="1.55"/>
<circle cx="671.5" cy="206.5" r="1.55"/><circle cx="732.5" cy="202.5" r="1.55"/><circle cx="722.5" cy="204.5" r="1.55"/><circle cx="728.5" cy="205.5" r="1.55"/><circle cx="730.5" cy="206.5" r="1.55"/><circle cx="728.5" cy="208.5" r="1.55"/>
<circle cx="696.5" cy="206.5" r="1.55"/><circle cx="705.5" cy="207.5" r="1.55"/><circle cx="707.5" cy="210.5" r="1.55"/><circle cx="696.5" cy="212.5" r="1.55"/><circle cx="696.5" cy="212.5" r="1.55"/><circle cx="725.5" cy="211.5" r="1.55"/>
<circle cx="723.5" cy="213.5" r="1.55"/><circle cx="708.5" cy="214.5" r="1.55"/><circle cx="744.5" cy="212.5" r="1.55"/><circle cx="749.5" cy="210.5" r="1.55"/><circle cx="702.5" cy="217.5" r="1.55"/><circle cx="708.5" cy="218.5" r="1.55"/>
<circle cx="712.5" cy="217.5" r="1.55"/><circle cx="713.5" cy="219.5" r="1.55"/><circle cx="716.5" cy="220.5" r="1.55"/><circle cx="723.5" cy="216.5" r="1.55"/><circle cx="738.5" cy="217.5" r="1.55"/><circle cx="723.5" cy="220.5" r="1.55"/>
<circle cx="726.5" cy="221.5" r="1.55"/><circle cx="726.5" cy="222.5" r="1.55"/><circle cx="731.5" cy="221.5" r="1.55"/><circle cx="735.5" cy="222.5" r="1.55"/><circle cx="717.5" cy="223.5" r="1.55"/><circle cx="725.5" cy="224.5" r="1.55"/>
<circle cx="701.5" cy="223.5" r="1.55"/><circle cx="742.5" cy="224.5" r="1.55"/><circle cx="720.5" cy="230.5" r="1.55"/><circle cx="733.5" cy="229.5" r="1.55"/><circle cx="743.5" cy="230.5" r="1.55"/><circle cx="732.5" cy="234.5" r="1.55"/>
<circle cx="741.5" cy="236.5" r="1.55"/><circle cx="732.5" cy="237.5" r="1.55"/><circle cx="729.5" cy="238.5" r="1.55"/><circle cx="730.5" cy="238.5" r="1.55"/><circle cx="739.5" cy="240.5" r="1.55"/><circle cx="747.5" cy="241.5" r="1.55"/>
<circle cx="699.5" cy="238.5" r="1.55"/><circle cx="731.5" cy="244.5" r="1.55"/><circle cx="728.5" cy="246.5" r="1.55"/><circle cx="736.5" cy="247.5" r="1.55"/><circle cx="730.5" cy="251.5" r="1.55"/><circle cx="722.5" cy="252.5" r="1.55"/>
<circle cx="687.5" cy="252.5" r="1.55"/><circle cx="744.5" cy="256.5" r="1.55"/><circle cx="749.5" cy="254.5" r="1.55"/><circle cx="700.5" cy="267.5" r="1.55"/><circle cx="734.5" cy="148.5" r="1.55"/><circle cx="726.5" cy="147.5" r="1.55"/>
<circle cx="737.5" cy="147.5" r="1.55"/><circle cx="751.5" cy="140.5" r="1.55"/><circle cx="750.5" cy="149.5" r="1.55"/><circle cx="751.5" cy="152.5" r="1.55"/><circle cx="756.5" cy="150.5" r="1.55"/><circle cx="763.5" cy="149.5" r="1.55"/>
<circle cx="774.5" cy="150.5" r="1.55"/><circle cx="784.5" cy="151.5" r="1.55"/><circle cx="725.5" cy="153.5" r="1.55"/><circle cx="733.5" cy="155.5" r="1.55"/><circle cx="747.5" cy="155.5" r="1.55"/><circle cx="749.5" cy="157.5" r="1.55"/>
<circle cx="740.5" cy="156.5" r="1.55"/><circle cx="742.5" cy="158.5" r="1.55"/><circle cx="744.5" cy="160.5" r="1.55"/><circle cx="759.5" cy="155.5" r="1.55"/><circle cx="756.5" cy="157.5" r="1.55"/><circle cx="753.5" cy="160.5" r="1.55"/>
<circle cx="765.5" cy="153.5" r="1.55"/><circle cx="766.5" cy="153.5" r="1.55"/><circle cx="765.5" cy="155.5" r="1.55"/><circle cx="774.5" cy="154.5" r="1.55"/><circle cx="775.5" cy="154.5" r="1.55"/><circle cx="780.5" cy="155.5" r="1.55"/>
<circle cx="779.5" cy="157.5" r="1.55"/><circle cx="785.5" cy="157.5" r="1.55"/><circle cx="787.5" cy="159.5" r="1.55"/><circle cx="791.5" cy="157.5" r="1.55"/><circle cx="769.5" cy="158.5" r="1.55"/><circle cx="767.5" cy="159.5" r="1.55"/>
<circle cx="764.5" cy="160.5" r="1.55"/><circle cx="762.5" cy="161.5" r="1.55"/><circle cx="767.5" cy="161.5" r="1.55"/><circle cx="774.5" cy="159.5" r="1.55"/><circle cx="760.5" cy="162.5" r="1.55"/><circle cx="766.5" cy="164.5" r="1.55"/>
<circle cx="783.5" cy="162.5" r="1.55"/><circle cx="788.5" cy="162.5" r="1.55"/><circle cx="788.5" cy="164.5" r="1.55"/><circle cx="721.5" cy="159.5" r="1.55"/><circle cx="728.5" cy="162.5" r="1.55"/><circle cx="732.5" cy="161.5" r="1.55"/>
<circle cx="724.5" cy="163.5" r="1.55"/><circle cx="726.5" cy="166.5" r="1.55"/><circle cx="723.5" cy="169.5" r="1.55"/><circle cx="750.5" cy="164.5" r="1.55"/><circle cx="754.5" cy="165.5" r="1.55"/><circle cx="744.5" cy="168.5" r="1.55"/>
<circle cx="747.5" cy="167.5" r="1.55"/><circle cx="750.5" cy="168.5" r="1.55"/><circle cx="752.5" cy="169.5" r="1.55"/><circle cx="749.5" cy="170.5" r="1.55"/><circle cx="751.5" cy="172.5" r="1.55"/><circle cx="747.5" cy="173.5" r="1.55"/>
<circle cx="752.5" cy="174.5" r="1.55"/><circle cx="754.5" cy="175.5" r="1.55"/><circle cx="759.5" cy="171.5" r="1.55"/><circle cx="758.5" cy="173.5" r="1.55"/><circle cx="761.5" cy="176.5" r="1.55"/><circle cx="758.5" cy="179.5" r="1.55"/>
<circle cx="748.5" cy="178.5" r="1.55"/><circle cx="753.5" cy="179.5" r="1.55"/><circle cx="754.5" cy="178.5" r="1.55"/><circle cx="752.5" cy="182.5" r="1.55"/><circle cx="776.5" cy="166.5" r="1.55"/><circle cx="774.5" cy="168.5" r="1.55"/>
<circle cx="771.5" cy="168.5" r="1.55"/><circle cx="781.5" cy="167.5" r="1.55"/><circle cx="779.5" cy="170.5" r="1.55"/><circle cx="778.5" cy="171.5" r="1.55"/><circle cx="784.5" cy="170.5" r="1.55"/><circle cx="774.5" cy="172.5" r="1.55"/>
<circle cx="775.5" cy="174.5" r="1.55"/><circle cx="789.5" cy="169.5" r="1.55"/><circle cx="791.5" cy="168.5" r="1.55"/><circle cx="789.5" cy="172.5" r="1.55"/><circle cx="735.5" cy="172.5" r="1.55"/><circle cx="738.5" cy="172.5" r="1.55"/>
<circle cx="730.5" cy="173.5" r="1.55"/><circle cx="732.5" cy="178.5" r="1.55"/><circle cx="767.5" cy="176.5" r="1.55"/><circle cx="769.5" cy="177.5" r="1.55"/><circle cx="776.5" cy="179.5" r="1.55"/><circle cx="785.5" cy="175.5" r="1.55"/>
<circle cx="789.5" cy="175.5" r="1.55"/><circle cx="786.5" cy="181.5" r="1.55"/><circle cx="767.5" cy="182.5" r="1.55"/><circle cx="764.5" cy="182.5" r="1.55"/><circle cx="773.5" cy="182.5" r="1.55"/><circle cx="781.5" cy="183.5" r="1.55"/>
<circle cx="769.5" cy="181.5" r="1.55"/><circle cx="757.5" cy="168.5" r="1.55"/><circle cx="764.5" cy="159.5" r="1.55"/><circle cx="766.5" cy="160.5" r="1.55"/><circle cx="768.5" cy="158.5" r="1.55"/><circle cx="765.5" cy="158.5" r="1.55"/>
<circle cx="764.5" cy="161.5" r="1.55"/><circle cx="746.5" cy="169.5" r="1.55"/><circle cx="748.5" cy="168.5" r="1.55"/><circle cx="751.5" cy="170.5" r="1.55"/><circle cx="749.5" cy="172.5" r="1.55"/><circle cx="751.5" cy="173.5" r="1.55"/>
<circle cx="753.5" cy="174.5" r="1.55"/><circle cx="754.5" cy="176.5" r="1.55"/><circle cx="753.5" cy="177.5" r="1.55"/><circle cx="748.5" cy="175.5" r="1.55"/><circle cx="750.5" cy="175.5" r="1.55"/><circle cx="753.5" cy="172.5" r="1.55"/>
<circle cx="775.5" cy="169.5" r="1.55"/><circle cx="777.5" cy="170.5" r="1.55"/><circle cx="779.5" cy="168.5" r="1.55"/><circle cx="776.5" cy="171.5" r="1.55"/><circle cx="778.5" cy="172.5" r="1.55"/><circle cx="789.5" cy="170.5" r="1.55"/>
<circle cx="790.5" cy="170.5" r="1.55"/><circle cx="791.5" cy="173.5" r="1.55"/><circle cx="789.5" cy="174.5" r="1.55"/><circle cx="765.5" cy="181.5" r="1.55"/><circle cx="767.5" cy="183.5" r="1.55"/><circle cx="769.5" cy="182.5" r="1.55"/>
<circle cx="771.5" cy="181.5" r="1.55"/><circle cx="766.5" cy="180.5" r="1.55"/><circle cx="736.5" cy="148.5" r="1.55"/><circle cx="766.5" cy="154.5" r="1.55"/><circle cx="774.5" cy="155.5" r="1.55"/><circle cx="797.5" cy="149.5" r="1.55"/>
<circle cx="801.5" cy="148.5" r="1.55"/><circle cx="808.5" cy="148.5" r="1.55"/><circle cx="793.5" cy="156.5" r="1.55"/><circle cx="801.5" cy="157.5" r="1.55"/><circle cx="808.5" cy="158.5" r="1.55"/><circle cx="816.5" cy="156.5" r="1.55"/>
<circle cx="802.5" cy="164.5" r="1.55"/><circle cx="826.5" cy="168.5" r="1.55"/><circle cx="841.5" cy="171.5" r="1.55"/><circle cx="802.5" cy="170.5" r="1.55"/><circle cx="806.5" cy="171.5" r="1.55"/><circle cx="797.5" cy="171.5" r="1.55"/>
<circle cx="792.5" cy="168.5" r="1.55"/><circle cx="796.5" cy="174.5" r="1.55"/><circle cx="800.5" cy="174.5" r="1.55"/><circle cx="804.5" cy="175.5" r="1.55"/><circle cx="806.5" cy="177.5" r="1.55"/><circle cx="798.5" cy="178.5" r="1.55"/>
<circle cx="803.5" cy="179.5" r="1.55"/><circle cx="799.5" cy="181.5" r="1.55"/><circle cx="813.5" cy="176.5" r="1.55"/><circle cx="815.5" cy="179.5" r="1.55"/><circle cx="819.5" cy="177.5" r="1.55"/><circle cx="828.5" cy="182.5" r="1.55"/>
<circle cx="838.5" cy="181.5" r="1.55"/><circle cx="835.5" cy="183.5" r="1.55"/><circle cx="838.5" cy="182.5" r="1.55"/><circle cx="814.5" cy="183.5" r="1.55"/><circle cx="811.5" cy="183.5" r="1.55"/><circle cx="796.5" cy="167.5" r="1.55"/>
<circle cx="751.5" cy="191.5" r="1.55"/><circle cx="755.5" cy="191.5" r="1.55"/><circle cx="756.5" cy="191.5" r="1.55"/><circle cx="751.5" cy="195.5" r="1.55"/><circle cx="754.5" cy="184.5" r="1.55"/><circle cx="767.5" cy="189.5" r="1.55"/>
<circle cx="763.5" cy="192.5" r="1.55"/><circle cx="766.5" cy="193.5" r="1.55"/><circle cx="770.5" cy="193.5" r="1.55"/><circle cx="772.5" cy="191.5" r="1.55"/><circle cx="773.5" cy="187.5" r="1.55"/><circle cx="772.5" cy="185.5" r="1.55"/>
<circle cx="776.5" cy="188.5" r="1.55"/><circle cx="776.5" cy="192.5" r="1.55"/><circle cx="781.5" cy="184.5" r="1.55"/><circle cx="784.5" cy="192.5" r="1.55"/><circle cx="787.5" cy="188.5" r="1.55"/><circle cx="789.5" cy="185.5" r="1.55"/>
<circle cx="791.5" cy="192.5" r="1.55"/><circle cx="785.5" cy="195.5" r="1.55"/><circle cx="783.5" cy="199.5" r="1.55"/><circle cx="779.5" cy="195.5" r="1.55"/><circle cx="778.5" cy="197.5" r="1.55"/><circle cx="775.5" cy="197.5" r="1.55"/>
<circle cx="777.5" cy="199.5" r="1.55"/><circle cx="756.5" cy="199.5" r="1.55"/><circle cx="761.5" cy="199.5" r="1.55"/><circle cx="757.5" cy="202.5" r="1.55"/><circle cx="768.5" cy="204.5" r="1.55"/><circle cx="774.5" cy="201.5" r="1.55"/>
<circle cx="773.5" cy="204.5" r="1.55"/><circle cx="776.5" cy="203.5" r="1.55"/><circle cx="753.5" cy="207.5" r="1.55"/><circle cx="763.5" cy="207.5" r="1.55"/><circle cx="754.5" cy="210.5" r="1.55"/><circle cx="758.5" cy="210.5" r="1.55"/>
<circle cx="782.5" cy="204.5" r="1.55"/><circle cx="784.5" cy="207.5" r="1.55"/><circle cx="785.5" cy="210.5" r="1.55"/><circle cx="789.5" cy="205.5" r="1.55"/><circle cx="790.5" cy="201.5" r="1.55"/><circle cx="764.5" cy="215.5" r="1.55"/>
<circle cx="773.5" cy="214.5" r="1.55"/><circle cx="789.5" cy="218.5" r="1.55"/><circle cx="791.5" cy="211.5" r="1.55"/><circle cx="768.5" cy="222.5" r="1.55"/><circle cx="769.5" cy="225.5" r="1.55"/><circle cx="760.5" cy="226.5" r="1.55"/>
<circle cx="757.5" cy="227.5" r="1.55"/><circle cx="776.5" cy="227.5" r="1.55"/><circle cx="771.5" cy="188.5" r="1.55"/><circle cx="774.5" cy="191.5" r="1.55"/><circle cx="777.5" cy="195.5" r="1.55"/><circle cx="776.5" cy="198.5" r="1.55"/>
<circle cx="779.5" cy="195.5" r="1.55"/><circle cx="773.5" cy="192.5" r="1.55"/><circle cx="772.5" cy="193.5" r="1.55"/><circle cx="781.5" cy="192.5" r="1.55"/><circle cx="811.5" cy="188.5" r="1.55"/><circle cx="816.5" cy="191.5" r="1.55"/>
<circle cx="817.5" cy="191.5" r="1.55"/><circle cx="826.5" cy="190.5" r="1.55"/><circle cx="843.5" cy="187.5" r="1.55"/><circle cx="838.5" cy="184.5" r="1.55"/><circle cx="828.5" cy="184.5" r="1.55"/><circle cx="792.5" cy="186.5" r="1.55"/>
<circle cx="798.5" cy="191.5" r="1.55"/><circle cx="800.5" cy="189.5" r="1.55"/><circle cx="806.5" cy="192.5" r="1.55"/><circle cx="796.5" cy="196.5" r="1.55"/><circle cx="799.5" cy="195.5" r="1.55"/><circle cx="802.5" cy="196.5" r="1.55"/>
<circle cx="800.5" cy="198.5" r="1.55"/><circle cx="809.5" cy="197.5" r="1.55"/><circle cx="807.5" cy="199.5" r="1.55"/><circle cx="813.5" cy="200.5" r="1.55"/><circle cx="812.5" cy="202.5" r="1.55"/><circle cx="806.5" cy="203.5" r="1.55"/>
<circle cx="817.5" cy="203.5" r="1.55"/><circle cx="825.5" cy="201.5" r="1.55"/><circle cx="837.5" cy="199.5" r="1.55"/><circle cx="837.5" cy="199.5" r="1.55"/><circle cx="841.5" cy="201.5" r="1.55"/><circle cx="846.5" cy="196.5" r="1.55"/>
<circle cx="799.5" cy="206.5" r="1.55"/><circle cx="800.5" cy="207.5" r="1.55"/><circle cx="799.5" cy="209.5" r="1.55"/><circle cx="805.5" cy="209.5" r="1.55"/><circle cx="801.5" cy="212.5" r="1.55"/><circle cx="793.5" cy="211.5" r="1.55"/>
<circle cx="796.5" cy="213.5" r="1.55"/><circle cx="804.5" cy="215.5" r="1.55"/><circle cx="841.5" cy="208.5" r="1.55"/><circle cx="841.5" cy="210.5" r="1.55"/><circle cx="841.5" cy="210.5" r="1.55"/><circle cx="858.5" cy="209.5" r="1.55"/>
<circle cx="850.5" cy="214.5" r="1.55"/><circle cx="859.5" cy="216.5" r="1.55"/><circle cx="849.5" cy="215.5" r="1.55"/><circle cx="824.5" cy="216.5" r="1.55"/><circle cx="835.5" cy="219.5" r="1.55"/><circle cx="816.5" cy="222.5" r="1.55"/>
<circle cx="826.5" cy="222.5" r="1.55"/><circle cx="829.5" cy="222.5" r="1.55"/><circle cx="830.5" cy="224.5" r="1.55"/><circle cx="832.5" cy="225.5" r="1.55"/><circle cx="836.5" cy="224.5" r="1.55"/><circle cx="851.5" cy="221.5" r="1.55"/>
<circle cx="847.5" cy="223.5" r="1.55"/><circle cx="810.5" cy="225.5" r="1.55"/><circle cx="822.5" cy="226.5" r="1.55"/><circle cx="797.5" cy="227.5" r="1.55"/><circle cx="755.5" cy="265.5" r="1.55"/><circle cx="759.5" cy="256.5" r="1.55"/>
<circle cx="753.5" cy="233.5" r="1.55"/><circle cx="756.5" cy="233.5" r="1.55"/><circle cx="751.5" cy="236.5" r="1.55"/><circle cx="755.5" cy="237.5" r="1.55"/><circle cx="760.5" cy="228.5" r="1.55"/><circle cx="762.5" cy="241.5" r="1.55"/>
<circle cx="761.5" cy="244.5" r="1.55"/><circle cx="764.5" cy="245.5" r="1.55"/><circle cx="756.5" cy="245.5" r="1.55"/><circle cx="751.5" cy="246.5" r="1.55"/><circle cx="753.5" cy="246.5" r="1.55"/><circle cx="760.5" cy="249.5" r="1.55"/>
<circle cx="768.5" cy="254.5" r="1.55"/><circle cx="772.5" cy="258.5" r="1.55"/><circle cx="776.5" cy="229.5" r="1.55"/><circle cx="781.5" cy="233.5" r="1.55"/><circle cx="782.5" cy="239.5" r="1.55"/><circle cx="782.5" cy="248.5" r="1.55"/>
<circle cx="791.5" cy="259.5" r="1.55"/><circle cx="780.5" cy="230.5" r="1.55"/><circle cx="791.5" cy="260.5" r="1.55"/><circle cx="808.5" cy="230.5" r="1.55"/><circle cx="810.5" cy="232.5" r="1.55"/><circle cx="811.5" cy="232.5" r="1.55"/>
<circle cx="812.5" cy="229.5" r="1.55"/><circle cx="812.5" cy="235.5" r="1.55"/><circle cx="811.5" cy="238.5" r="1.55"/><circle cx="818.5" cy="232.5" r="1.55"/><circle cx="831.5" cy="229.5" r="1.55"/><circle cx="817.5" cy="238.5" r="1.55"/>
<circle cx="801.5" cy="242.5" r="1.55"/><circle cx="837.5" cy="239.5" r="1.55"/><circle cx="833.5" cy="244.5" r="1.55"/><circle cx="848.5" cy="235.5" r="1.55"/><circle cx="855.5" cy="243.5" r="1.55"/><circle cx="862.5" cy="240.5" r="1.55"/>
<circle cx="865.5" cy="241.5" r="1.55"/><circle cx="833.5" cy="252.5" r="1.55"/><circle cx="833.5" cy="252.5" r="1.55"/><circle cx="850.5" cy="250.5" r="1.55"/><circle cx="837.5" cy="266.5" r="1.55"/><circle cx="843.5" cy="271.5" r="1.55"/>
<circle cx="822.5" cy="231.5" r="1.55"/><circle cx="756.5" cy="283.5" r="1.55"/><circle cx="847.5" cy="279.5" r="1.55"/><circle cx="857.5" cy="279.5" r="1.55"/><circle cx="854.5" cy="280.5" r="1.55"/><circle cx="871.5" cy="300.5" r="1.55"/>
<circle cx="876.5" cy="272.5" r="1.55"/><circle cx="871.5" cy="255.5" r="1.55"/>
</g>
<g class="b">
<circle cx="731.5" cy="124.5" r="1.55"/><circle cx="754.5" cy="134.5" r="1.55"/><circle cx="737.5" cy="245.5" r="1.55"/><circle cx="757.5" cy="168.5" r="1.55"/><circle cx="790.5" cy="183.5" r="1.55"/><circle cx="796.5" cy="167.5" r="1.55"/>
<circle cx="824.5" cy="181.5" r="1.55"/><circle cx="787.5" cy="213.5" r="1.55"/><circle cx="814.5" cy="188.5" r="1.55"/><circle cx="853.5" cy="197.5" r="1.55"/><circle cx="834.5" cy="210.5" r="1.55"/><circle cx="834.5" cy="211.5" r="1.55"/>
<circle cx="838.5" cy="214.5" r="1.55"/><circle cx="840.5" cy="215.5" r="1.55"/><circle cx="848.5" cy="216.5" r="1.55"/><circle cx="806.5" cy="213.5" r="1.55"/><circle cx="809.5" cy="216.5" r="1.55"/><circle cx="829.5" cy="218.5" r="1.55"/>
<circle cx="822.5" cy="222.5" r="1.55"/><circle cx="835.5" cy="223.5" r="1.55"/><circle cx="863.5" cy="217.5" r="1.55"/><circle cx="857.5" cy="221.5" r="1.55"/><circle cx="857.5" cy="221.5" r="1.55"/><circle cx="860.5" cy="225.5" r="1.55"/>
<circle cx="867.5" cy="227.5" r="1.55"/><circle cx="868.5" cy="220.5" r="1.55"/><circle cx="780.5" cy="230.5" r="1.55"/><circle cx="770.5" cy="256.5" r="1.55"/><circle cx="791.5" cy="260.5" r="1.55"/><circle cx="794.5" cy="232.5" r="1.55"/>
<circle cx="822.5" cy="231.5" r="1.55"/><circle cx="809.5" cy="237.5" r="1.55"/><circle cx="832.5" cy="238.5" r="1.55"/><circle cx="843.5" cy="234.5" r="1.55"/><circle cx="864.5" cy="235.5" r="1.55"/><circle cx="815.5" cy="250.5" r="1.55"/>
<circle cx="836.5" cy="250.5" r="1.55"/><circle cx="850.5" cy="250.5" r="1.55"/><circle cx="864.5" cy="255.5" r="1.55"/><circle cx="867.5" cy="260.5" r="1.55"/><circle cx="794.5" cy="262.5" r="1.55"/><circle cx="810.5" cy="270.5" r="1.55"/>
<circle cx="856.5" cy="271.5" r="1.55"/><circle cx="850.5" cy="278.5" r="1.55"/><circle cx="855.5" cy="277.5" r="1.55"/><circle cx="855.5" cy="281.5" r="1.55"/><circle cx="855.5" cy="290.5" r="1.55"/><circle cx="858.5" cy="295.5" r="1.55"/>
<circle cx="879.5" cy="278.5" r="1.55"/><circle cx="879.5" cy="291.5" r="1.55"/><circle cx="877.5" cy="298.5" r="1.55"/><circle cx="816.5" cy="308.5" r="1.55"/><circle cx="831.5" cy="309.5" r="1.55"/><circle cx="826.5" cy="311.5" r="1.55"/>
<circle cx="847.5" cy="311.5" r="1.55"/><circle cx="844.5" cy="315.5" r="1.55"/><circle cx="857.5" cy="309.5" r="1.55"/><circle cx="864.5" cy="317.5" r="1.55"/><circle cx="860.5" cy="330.5" r="1.55"/><circle cx="856.5" cy="331.5" r="1.55"/>
<circle cx="846.5" cy="334.5" r="1.55"/><circle cx="869.5" cy="340.5" r="1.55"/><circle cx="873.5" cy="340.5" r="1.55"/><circle cx="875.5" cy="343.5" r="1.55"/><circle cx="844.5" cy="343.5" r="1.55"/><circle cx="879.5" cy="343.5" r="1.55"/>
<circle cx="886.5" cy="171.5" r="1.55"/><circle cx="925.5" cy="182.5" r="1.55"/><circle cx="925.5" cy="196.5" r="1.55"/><circle cx="872.5" cy="206.5" r="1.55"/><circle cx="879.5" cy="207.5" r="1.55"/><circle cx="875.5" cy="212.5" r="1.55"/>
<circle cx="886.5" cy="214.5" r="1.55"/><circle cx="904.5" cy="215.5" r="1.55"/><circle cx="880.5" cy="225.5" r="1.55"/><circle cx="912.5" cy="226.5" r="1.55"/><circle cx="914.5" cy="228.5" r="1.55"/><circle cx="875.5" cy="230.5" r="1.55"/>
<circle cx="920.5" cy="235.5" r="1.55"/><circle cx="930.5" cy="238.5" r="1.55"/><circle cx="904.5" cy="240.5" r="1.55"/><circle cx="878.5" cy="248.5" r="1.55"/><circle cx="897.5" cy="247.5" r="1.55"/><circle cx="918.5" cy="249.5" r="1.55"/>
<circle cx="944.5" cy="247.5" r="1.55"/><circle cx="872.5" cy="252.5" r="1.55"/><circle cx="884.5" cy="251.5" r="1.55"/><circle cx="891.5" cy="256.5" r="1.55"/><circle cx="884.5" cy="257.5" r="1.55"/><circle cx="883.5" cy="260.5" r="1.55"/>
<circle cx="884.5" cy="261.5" r="1.55"/><circle cx="881.5" cy="260.5" r="1.55"/><circle cx="874.5" cy="260.5" r="1.55"/><circle cx="871.5" cy="264.5" r="1.55"/><circle cx="874.5" cy="266.5" r="1.55"/><circle cx="884.5" cy="265.5" r="1.55"/>
<circle cx="897.5" cy="270.5" r="1.55"/><circle cx="897.5" cy="270.5" r="1.55"/><circle cx="910.5" cy="274.5" r="1.55"/><circle cx="881.5" cy="276.5" r="1.55"/><circle cx="894.5" cy="282.5" r="1.55"/><circle cx="911.5" cy="285.5" r="1.55"/>
<circle cx="889.5" cy="291.5" r="1.55"/><circle cx="883.5" cy="300.5" r="1.55"/><circle cx="905.5" cy="299.5" r="1.55"/><circle cx="921.5" cy="299.5" r="1.55"/><circle cx="898.5" cy="305.5" r="1.55"/><circle cx="918.5" cy="307.5" r="1.55"/>
<circle cx="926.5" cy="307.5" r="1.55"/><circle cx="930.5" cy="305.5" r="1.55"/><circle cx="934.5" cy="308.5" r="1.55"/><circle cx="926.5" cy="315.5" r="1.55"/><circle cx="942.5" cy="311.5" r="1.55"/><circle cx="947.5" cy="302.5" r="1.55"/>
<circle cx="959.5" cy="298.5" r="1.55"/><circle cx="974.5" cy="286.5" r="1.55"/><circle cx="952.5" cy="288.5" r="1.55"/><circle cx="954.5" cy="291.5" r="1.55"/><circle cx="946.5" cy="281.5" r="1.55"/><circle cx="953.5" cy="279.5" r="1.55"/>
<circle cx="956.5" cy="281.5" r="1.55"/><circle cx="956.5" cy="273.5" r="1.55"/><circle cx="957.5" cy="275.5" r="1.55"/><circle cx="944.5" cy="272.5" r="1.55"/><circle cx="937.5" cy="270.5" r="1.55"/><circle cx="940.5" cy="268.5" r="1.55"/>
<circle cx="943.5" cy="265.5" r="1.55"/><circle cx="967.5" cy="312.5" r="1.55"/><circle cx="968.5" cy="315.5" r="1.55"/><circle cx="954.5" cy="317.5" r="1.55"/><circle cx="981.5" cy="317.5" r="1.55"/><circle cx="989.5" cy="319.5" r="1.55"/>
<circle cx="981.5" cy="322.5" r="1.55"/><circle cx="920.5" cy="321.5" r="1.55"/><circle cx="938.5" cy="325.5" r="1.55"/><circle cx="930.5" cy="327.5" r="1.55"/><circle cx="933.5" cy="330.5" r="1.55"/><circle cx="884.5" cy="329.5" r="1.55"/>
<circle cx="899.5" cy="335.5" r="1.55"/><circle cx="889.5" cy="337.5" r="1.55"/><circle cx="918.5" cy="335.5" r="1.55"/><circle cx="931.5" cy="334.5" r="1.55"/><circle cx="933.5" cy="337.5" r="1.55"/><circle cx="938.5" cy="336.5" r="1.55"/>
<circle cx="939.5" cy="338.5" r="1.55"/><circle cx="916.5" cy="343.5" r="1.55"/><circle cx="915.5" cy="346.5" r="1.55"/><circle cx="928.5" cy="343.5" r="1.55"/><circle cx="934.5" cy="344.5" r="1.55"/><circle cx="939.5" cy="345.5" r="1.55"/>
<circle cx="949.5" cy="346.5" r="1.55"/><circle cx="975.5" cy="347.5" r="1.55"/><circle cx="988.5" cy="349.5" r="1.55"/><circle cx="896.5" cy="346.5" r="1.55"/><circle cx="892.5" cy="347.5" r="1.55"/><circle cx="891.5" cy="347.5" r="1.55"/>
<circle cx="892.5" cy="349.5" r="1.55"/><circle cx="906.5" cy="346.5" r="1.55"/><circle cx="905.5" cy="347.5" r="1.55"/><circle cx="900.5" cy="349.5" r="1.55"/><circle cx="884.5" cy="349.5" r="1.55"/><circle cx="880.5" cy="351.5" r="1.55"/>
<circle cx="943.5" cy="351.5" r="1.55"/><circle cx="946.5" cy="351.5" r="1.55"/><circle cx="955.5" cy="352.5" r="1.55"/><circle cx="909.5" cy="352.5" r="1.55"/><circle cx="925.5" cy="352.5" r="1.55"/><circle cx="880.5" cy="355.5" r="1.55"/>
<circle cx="945.5" cy="356.5" r="1.55"/><circle cx="983.5" cy="356.5" r="1.55"/><circle cx="939.5" cy="360.5" r="1.55"/><circle cx="941.5" cy="364.5" r="1.55"/><circle cx="944.5" cy="369.5" r="1.55"/><circle cx="941.5" cy="374.5" r="1.55"/>
<circle cx="951.5" cy="382.5" r="1.55"/><circle cx="980.5" cy="361.5" r="1.55"/><circle cx="973.5" cy="364.5" r="1.55"/><circle cx="969.5" cy="367.5" r="1.55"/><circle cx="979.5" cy="370.5" r="1.55"/><circle cx="981.5" cy="383.5" r="1.55"/>
<circle cx="938.5" cy="386.5" r="1.55"/><circle cx="943.5" cy="386.5" r="1.55"/><circle cx="950.5" cy="390.5" r="1.55"/><circle cx="953.5" cy="390.5" r="1.55"/><circle cx="940.5" cy="389.5" r="1.55"/><circle cx="944.5" cy="390.5" r="1.55"/>
<circle cx="935.5" cy="389.5" r="1.55"/><circle cx="951.5" cy="392.5" r="1.55"/><circle cx="871.5" cy="362.5" r="1.55"/><circle cx="878.5" cy="360.5" r="1.55"/><circle cx="877.5" cy="363.5" r="1.55"/><circle cx="881.5" cy="360.5" r="1.55"/>
<circle cx="883.5" cy="360.5" r="1.55"/><circle cx="885.5" cy="362.5" r="1.55"/><circle cx="888.5" cy="363.5" r="1.55"/><circle cx="893.5" cy="362.5" r="1.55"/><circle cx="893.5" cy="362.5" r="1.55"/><circle cx="901.5" cy="362.5" r="1.55"/>
<circle cx="914.5" cy="359.5" r="1.55"/><circle cx="927.5" cy="360.5" r="1.55"/><circle cx="923.5" cy="362.5" r="1.55"/><circle cx="866.5" cy="364.5" r="1.55"/><circle cx="868.5" cy="368.5" r="1.55"/><circle cx="866.5" cy="370.5" r="1.55"/>
<circle cx="875.5" cy="368.5" r="1.55"/><circle cx="875.5" cy="368.5" r="1.55"/><circle cx="874.5" cy="370.5" r="1.55"/><circle cx="891.5" cy="367.5" r="1.55"/><circle cx="896.5" cy="366.5" r="1.55"/><circle cx="897.5" cy="369.5" r="1.55"/>
<circle cx="900.5" cy="370.5" r="1.55"/><circle cx="911.5" cy="367.5" r="1.55"/><circle cx="911.5" cy="367.5" r="1.55"/><circle cx="909.5" cy="369.5" r="1.55"/><circle cx="920.5" cy="366.5" r="1.55"/><circle cx="925.5" cy="366.5" r="1.55"/>
<circle cx="928.5" cy="367.5" r="1.55"/><circle cx="933.5" cy="368.5" r="1.55"/><circle cx="931.5" cy="371.5" r="1.55"/><circle cx="880.5" cy="371.5" r="1.55"/><circle cx="883.5" cy="371.5" r="1.55"/><circle cx="888.5" cy="371.5" r="1.55"/>
<circle cx="890.5" cy="372.5" r="1.55"/><circle cx="882.5" cy="373.5" r="1.55"/><circle cx="883.5" cy="373.5" r="1.55"/><circle cx="881.5" cy="375.5" r="1.55"/><circle cx="885.5" cy="373.5" r="1.55"/><circle cx="877.5" cy="374.5" r="1.55"/>
<circle cx="873.5" cy="374.5" r="1.55"/><circle cx="872.5" cy="377.5" r="1.55"/><circle cx="893.5" cy="375.5" r="1.55"/><circle cx="891.5" cy="377.5" r="1.55"/><circle cx="888.5" cy="379.5" r="1.55"/><circle cx="904.5" cy="374.5" r="1.55"/>
<circle cx="908.5" cy="372.5" r="1.55"/><circle cx="909.5" cy="371.5" r="1.55"/><circle cx="911.5" cy="374.5" r="1.55"/><circle cx="915.5" cy="372.5" r="1.55"/><circle cx="916.5" cy="375.5" r="1.55"/><circle cx="913.5" cy="376.5" r="1.55"/>
<circle cx="910.5" cy="377.5" r="1.55"/><circle cx="912.5" cy="378.5" r="1.55"/><circle cx="926.5" cy="375.5" r="1.55"/><circle cx="933.5" cy="375.5" r="1.55"/><circle cx="934.5" cy="378.5" r="1.55"/><circle cx="899.5" cy="378.5" r="1.55"/>
<circle cx="903.5" cy="378.5" r="1.55"/><circle cx="906.5" cy="379.5" r="1.55"/><circle cx="902.5" cy="380.5" r="1.55"/><circle cx="907.5" cy="380.5" r="1.55"/><circle cx="906.5" cy="382.5" r="1.55"/><circle cx="919.5" cy="379.5" r="1.55"/>
<circle cx="922.5" cy="380.5" r="1.55"/><circle cx="924.5" cy="381.5" r="1.55"/><circle cx="927.5" cy="381.5" r="1.55"/><circle cx="915.5" cy="382.5" r="1.55"/><circle cx="920.5" cy="381.5" r="1.55"/><circle cx="875.5" cy="382.5" r="1.55"/>
<circle cx="875.5" cy="384.5" r="1.55"/><circle cx="888.5" cy="383.5" r="1.55"/><circle cx="889.5" cy="386.5" r="1.55"/><circle cx="888.5" cy="389.5" r="1.55"/><circle cx="895.5" cy="388.5" r="1.55"/><circle cx="877.5" cy="389.5" r="1.55"/>
<circle cx="915.5" cy="386.5" r="1.55"/><circle cx="918.5" cy="386.5" r="1.55"/><circle cx="920.5" cy="387.5" r="1.55"/><circle cx="923.5" cy="385.5" r="1.55"/><circle cx="926.5" cy="386.5" r="1.55"/><circle cx="929.5" cy="388.5" r="1.55"/>
<circle cx="925.5" cy="389.5" r="1.55"/><circle cx="922.5" cy="390.5" r="1.55"/><circle cx="917.5" cy="389.5" r="1.55"/><circle cx="914.5" cy="389.5" r="1.55"/><circle cx="920.5" cy="384.5" r="1.55"/><circle cx="935.5" cy="392.5" r="1.55"/>
<circle cx="938.5" cy="394.5" r="1.55"/><circle cx="906.5" cy="391.5" r="1.55"/><circle cx="911.5" cy="392.5" r="1.55"/><circle cx="901.5" cy="393.5" r="1.55"/><circle cx="893.5" cy="392.5" r="1.55"/><circle cx="894.5" cy="393.5" r="1.55"/>
<circle cx="888.5" cy="393.5" r="1.55"/><circle cx="882.5" cy="394.5" r="1.55"/><circle cx="896.5" cy="394.5" r="1.55"/><circle cx="900.5" cy="395.5" r="1.55"/><circle cx="914.5" cy="394.5" r="1.55"/><circle cx="917.5" cy="395.5" r="1.55"/>
<circle cx="920.5" cy="395.5" r="1.55"/><circle cx="921.5" cy="395.5" r="1.55"/><circle cx="923.5" cy="396.5" r="1.55"/><circle cx="928.5" cy="394.5" r="1.55"/><circle cx="941.5" cy="397.5" r="1.55"/><circle cx="884.5" cy="397.5" r="1.55"/>
<circle cx="889.5" cy="396.5" r="1.55"/><circle cx="890.5" cy="398.5" r="1.55"/><circle cx="895.5" cy="397.5" r="1.55"/><circle cx="898.5" cy="398.5" r="1.55"/><circle cx="904.5" cy="397.5" r="1.55"/><circle cx="901.5" cy="398.5" r="1.55"/>
<circle cx="911.5" cy="398.5" r="1.55"/><circle cx="935.5" cy="398.5" r="1.55"/><circle cx="909.5" cy="373.5" r="1.55"/><circle cx="912.5" cy="374.5" r="1.55"/><circle cx="914.5" cy="374.5" r="1.55"/><circle cx="911.5" cy="372.5" r="1.55"/>
<circle cx="917.5" cy="387.5" r="1.55"/><circle cx="920.5" cy="387.5" r="1.55"/><circle cx="923.5" cy="387.5" r="1.55"/><circle cx="918.5" cy="388.5" r="1.55"/><circle cx="921.5" cy="386.5" r="1.55"/><circle cx="907.5" cy="380.5" r="1.55"/>
<circle cx="904.5" cy="379.5" r="1.55"/><circle cx="920.5" cy="400.5" r="1.55"/><circle cx="925.5" cy="401.5" r="1.55"/><circle cx="941.5" cy="404.5" r="1.55"/><circle cx="883.5" cy="402.5" r="1.55"/><circle cx="881.5" cy="405.5" r="1.55"/>
<circle cx="882.5" cy="406.5" r="1.55"/><circle cx="887.5" cy="403.5" r="1.55"/><circle cx="890.5" cy="401.5" r="1.55"/><circle cx="893.5" cy="401.5" r="1.55"/><circle cx="895.5" cy="403.5" r="1.55"/><circle cx="900.5" cy="402.5" r="1.55"/>
<circle cx="902.5" cy="404.5" r="1.55"/><circle cx="904.5" cy="402.5" r="1.55"/><circle cx="905.5" cy="402.5" r="1.55"/><circle cx="901.5" cy="405.5" r="1.55"/><circle cx="889.5" cy="399.5" r="1.55"/><circle cx="904.5" cy="400.5" r="1.55"/>
<circle cx="895.5" cy="407.5" r="1.55"/><circle cx="892.5" cy="409.5" r="1.55"/><circle cx="907.5" cy="407.5" r="1.55"/><circle cx="912.5" cy="408.5" r="1.55"/><circle cx="905.5" cy="410.5" r="1.55"/><circle cx="910.5" cy="411.5" r="1.55"/>
<circle cx="913.5" cy="412.5" r="1.55"/><circle cx="918.5" cy="407.5" r="1.55"/><circle cx="929.5" cy="405.5" r="1.55"/><circle cx="930.5" cy="408.5" r="1.55"/><circle cx="927.5" cy="410.5" r="1.55"/><circle cx="923.5" cy="410.5" r="1.55"/>
<circle cx="920.5" cy="410.5" r="1.55"/><circle cx="938.5" cy="408.5" r="1.55"/><circle cx="939.5" cy="412.5" r="1.55"/><circle cx="870.5" cy="410.5" r="1.55"/><circle cx="879.5" cy="411.5" r="1.55"/><circle cx="880.5" cy="415.5" r="1.55"/>
<circle cx="875.5" cy="417.5" r="1.55"/><circle cx="880.5" cy="418.5" r="1.55"/><circle cx="889.5" cy="416.5" r="1.55"/><circle cx="886.5" cy="419.5" r="1.55"/><circle cx="894.5" cy="418.5" r="1.55"/><circle cx="896.5" cy="414.5" r="1.55"/>
<circle cx="897.5" cy="415.5" r="1.55"/><circle cx="901.5" cy="413.5" r="1.55"/><circle cx="903.5" cy="415.5" r="1.55"/><circle cx="908.5" cy="414.5" r="1.55"/><circle cx="912.5" cy="416.5" r="1.55"/><circle cx="914.5" cy="414.5" r="1.55"/>
<circle cx="911.5" cy="413.5" r="1.55"/><circle cx="920.5" cy="415.5" r="1.55"/><circle cx="916.5" cy="418.5" r="1.55"/><circle cx="908.5" cy="418.5" r="1.55"/><circle cx="906.5" cy="420.5" r="1.55"/><circle cx="928.5" cy="412.5" r="1.55"/>
<circle cx="931.5" cy="413.5" r="1.55"/><circle cx="931.5" cy="416.5" r="1.55"/><circle cx="934.5" cy="417.5" r="1.55"/><circle cx="936.5" cy="419.5" r="1.55"/><circle cx="918.5" cy="422.5" r="1.55"/><circle cx="925.5" cy="421.5" r="1.55"/>
<circle cx="928.5" cy="423.5" r="1.55"/><circle cx="930.5" cy="423.5" r="1.55"/><circle cx="923.5" cy="424.5" r="1.55"/><circle cx="926.5" cy="425.5" r="1.55"/><circle cx="926.5" cy="426.5" r="1.55"/><circle cx="931.5" cy="425.5" r="1.55"/>
<circle cx="936.5" cy="422.5" r="1.55"/><circle cx="936.5" cy="422.5" r="1.55"/><circle cx="936.5" cy="424.5" r="1.55"/><circle cx="941.5" cy="421.5" r="1.55"/><circle cx="877.5" cy="422.5" r="1.55"/><circle cx="881.5" cy="423.5" r="1.55"/>
<circle cx="876.5" cy="425.5" r="1.55"/><circle cx="881.5" cy="425.5" r="1.55"/><circle cx="897.5" cy="426.5" r="1.55"/><circle cx="913.5" cy="425.5" r="1.55"/><circle cx="930.5" cy="429.5" r="1.55"/><circle cx="933.5" cy="429.5" r="1.55"/>
<circle cx="939.5" cy="428.5" r="1.55"/><circle cx="939.5" cy="430.5" r="1.55"/><circle cx="939.5" cy="430.5" r="1.55"/><circle cx="941.5" cy="427.5" r="1.55"/><circle cx="870.5" cy="434.5" r="1.55"/><circle cx="875.5" cy="432.5" r="1.55"/>
<circle cx="876.5" cy="435.5" r="1.55"/><circle cx="883.5" cy="436.5" r="1.55"/><circle cx="900.5" cy="433.5" r="1.55"/><circle cx="910.5" cy="435.5" r="1.55"/><circle cx="923.5" cy="433.5" r="1.55"/><circle cx="927.5" cy="435.5" r="1.55"/>
<circle cx="932.5" cy="434.5" r="1.55"/><circle cx="904.5" cy="436.5" r="1.55"/><circle cx="914.5" cy="436.5" r="1.55"/><circle cx="891.5" cy="396.5" r="1.55"/><circle cx="924.5" cy="423.5" r="1.55"/><circle cx="927.5" cy="424.5" r="1.55"/>
<circle cx="929.5" cy="425.5" r="1.55"/><circle cx="925.5" cy="425.5" r="1.55"/><circle cx="927.5" cy="422.5" r="1.55"/><circle cx="935.5" cy="420.5" r="1.55"/><circle cx="937.5" cy="423.5" r="1.55"/><circle cx="935.5" cy="419.5" r="1.55"/>
<circle cx="911.5" cy="412.5" r="1.55"/><circle cx="912.5" cy="413.5" r="1.55"/><circle cx="909.5" cy="413.5" r="1.55"/><circle cx="951.5" cy="393.5" r="1.55"/><circle cx="951.5" cy="394.5" r="1.55"/><circle cx="949.5" cy="396.5" r="1.55"/>
<circle cx="945.5" cy="397.5" r="1.55"/><circle cx="959.5" cy="399.5" r="1.55"/><circle cx="954.5" cy="401.5" r="1.55"/><circle cx="956.5" cy="402.5" r="1.55"/><circle cx="945.5" cy="402.5" r="1.55"/><circle cx="946.5" cy="404.5" r="1.55"/>
<circle cx="964.5" cy="406.5" r="1.55"/><circle cx="960.5" cy="410.5" r="1.55"/><circle cx="960.5" cy="410.5" r="1.55"/><circle cx="958.5" cy="411.5" r="1.55"/><circle cx="963.5" cy="414.5" r="1.55"/><circle cx="943.5" cy="412.5" r="1.55"/>
<circle cx="947.5" cy="414.5" r="1.55"/><circle cx="944.5" cy="417.5" r="1.55"/><circle cx="948.5" cy="418.5" r="1.55"/><circle cx="943.5" cy="421.5" r="1.55"/><circle cx="953.5" cy="424.5" r="1.55"/><circle cx="953.5" cy="424.5" r="1.55"/>
<circle cx="964.5" cy="425.5" r="1.55"/><circle cx="985.5" cy="423.5" r="1.55"/><circle cx="958.5" cy="426.5" r="1.55"/><circle cx="961.5" cy="428.5" r="1.55"/><circle cx="963.5" cy="429.5" r="1.55"/><circle cx="970.5" cy="429.5" r="1.55"/>
<circle cx="943.5" cy="425.5" r="1.55"/><circle cx="944.5" cy="427.5" r="1.55"/><circle cx="949.5" cy="427.5" r="1.55"/><circle cx="949.5" cy="429.5" r="1.55"/><circle cx="949.5" cy="429.5" r="1.55"/><circle cx="946.5" cy="431.5" r="1.55"/>
<circle cx="950.5" cy="436.5" r="1.55"/><circle cx="959.5" cy="436.5" r="1.55"/><circle cx="904.5" cy="438.5" r="1.55"/><circle cx="905.5" cy="440.5" r="1.55"/><circle cx="905.5" cy="441.5" r="1.55"/><circle cx="932.5" cy="439.5" r="1.55"/>
<circle cx="935.5" cy="438.5" r="1.55"/><circle cx="936.5" cy="440.5" r="1.55"/><circle cx="949.5" cy="438.5" r="1.55"/><circle cx="965.5" cy="439.5" r="1.55"/><circle cx="965.5" cy="442.5" r="1.55"/><circle cx="965.5" cy="442.5" r="1.55"/>
<circle cx="879.5" cy="442.5" r="1.55"/><circle cx="885.5" cy="443.5" r="1.55"/><circle cx="891.5" cy="445.5" r="1.55"/><circle cx="892.5" cy="447.5" r="1.55"/><circle cx="919.5" cy="447.5" r="1.55"/><circle cx="928.5" cy="445.5" r="1.55"/>
<circle cx="935.5" cy="444.5" r="1.55"/><circle cx="935.5" cy="447.5" r="1.55"/><circle cx="949.5" cy="445.5" r="1.55"/><circle cx="952.5" cy="448.5" r="1.55"/><circle cx="960.5" cy="448.5" r="1.55"/><circle cx="944.5" cy="450.5" r="1.55"/>
<circle cx="934.5" cy="450.5" r="1.55"/><circle cx="935.5" cy="450.5" r="1.55"/><circle cx="937.5" cy="451.5" r="1.55"/><circle cx="933.5" cy="451.5" r="1.55"/><circle cx="925.5" cy="450.5" r="1.55"/><circle cx="920.5" cy="452.5" r="1.55"/>
<circle cx="904.5" cy="449.5" r="1.55"/><circle cx="908.5" cy="450.5" r="1.55"/><circle cx="890.5" cy="452.5" r="1.55"/><circle cx="899.5" cy="453.5" r="1.55"/><circle cx="894.5" cy="454.5" r="1.55"/><circle cx="894.5" cy="456.5" r="1.55"/>
<circle cx="895.5" cy="455.5" r="1.55"/><circle cx="934.5" cy="455.5" r="1.55"/><circle cx="940.5" cy="456.5" r="1.55"/><circle cx="940.5" cy="456.5" r="1.55"/><circle cx="875.5" cy="457.5" r="1.55"/><circle cx="923.5" cy="458.5" r="1.55"/>
<circle cx="909.5" cy="460.5" r="1.55"/><circle cx="913.5" cy="460.5" r="1.55"/><circle cx="901.5" cy="462.5" r="1.55"/><circle cx="933.5" cy="461.5" r="1.55"/><circle cx="954.5" cy="459.5" r="1.55"/><circle cx="955.5" cy="460.5" r="1.55"/>
<circle cx="916.5" cy="465.5" r="1.55"/><circle cx="921.5" cy="466.5" r="1.55"/><circle cx="901.5" cy="474.5" r="1.55"/><circle cx="878.5" cy="476.5" r="1.55"/><circle cx="918.5" cy="494.5" r="1.55"/><circle cx="898.5" cy="506.5" r="1.55"/>
<circle cx="849.5" cy="372.5" r="1.55"/><circle cx="860.5" cy="384.5" r="1.55"/><circle cx="864.5" cy="401.5" r="1.55"/><circle cx="855.5" cy="410.5" r="1.55"/>
</g>
<g class="r">
</g>
</g>
<g id="axes" fill="none" stroke="#000" stroke-width="1.11" stroke-linejoin="miter">
<rect x="99.5" y="70.5" width="422" height="462"/>
<rect x="606.5" y="70.5" width="423" height="462"/>
</g>
<g id="ticks" stroke="#000" stroke-width="1.11">
<path d="M99.5 533V537.5M165.5 533V537.5M231.5 533V537.5M297.5 533V537.5M363.5 533V537.5M429.5 533V537.5M495.5 533V537.5M606.5 533V537.5M672.5 533V537.5M738.5 533V537.5M804.5 533V537.5M870.5 533V537.5M936.5 533V537.5M1002.5 533V537.5M94.5 70.5H99M601.5 70.5H606M94.5 152.5H99M601.5 152.5H606M94.5 235.5H99M601.5 235.5H606M94.5 317.5H99M601.5 317.5H606M94.5 400.5H99M601.5 400.5H606M94.5 482.5H99M601.5 482.5H606"/>
</g>
<g id="ticklabels" font-size="14.1" class="tx">
<text x="82" y="553" textLength="32" lengthAdjust="spacingAndGlyphs">−2.0</text>
<text x="148" y="553" textLength="32" lengthAdjust="spacingAndGlyphs">−1.5</text>
<text x="214" y="553" textLength="32" lengthAdjust="spacingAndGlyphs">−1.0</text>
<text x="281" y="553" textLength="32" lengthAdjust="spacingAndGlyphs">−0.5</text>
<text x="354" y="553" textLength="19" lengthAdjust="spacingAndGlyphs">0.0</text>
<text x="420" y="553" textLength="19" lengthAdjust="spacingAndGlyphs">0.5</text>
<text x="486" y="553" textLength="19" lengthAdjust="spacingAndGlyphs">1.0</text>
<text x="590" y="553" textLength="32" lengthAdjust="spacingAndGlyphs">−2.0</text>
<text x="656" y="553" textLength="32" lengthAdjust="spacingAndGlyphs">−1.5</text>
<text x="722" y="553" textLength="32" lengthAdjust="spacingAndGlyphs">−1.0</text>
<text x="788" y="553" textLength="32" lengthAdjust="spacingAndGlyphs">−0.5</text>
<text x="861" y="553" textLength="19" lengthAdjust="spacingAndGlyphs">0.0</text>
<text x="927" y="553" textLength="19" lengthAdjust="spacingAndGlyphs">0.5</text>
<text x="993" y="553" textLength="19" lengthAdjust="spacingAndGlyphs">1.0</text>
<text x="69" y="75.5" textLength="19" lengthAdjust="spacingAndGlyphs">1.0</text>
<text x="69" y="157.5" textLength="19" lengthAdjust="spacingAndGlyphs">0.5</text>
<text x="69" y="239.5" textLength="19" lengthAdjust="spacingAndGlyphs">0.0</text>
<text x="56" y="322.5" textLength="32" lengthAdjust="spacingAndGlyphs">−0.5</text>
<text x="56" y="405.5" textLength="32" lengthAdjust="spacingAndGlyphs">−1.0</text>
<text x="56" y="487.5" textLength="32" lengthAdjust="spacingAndGlyphs">−1.5</text>
<text x="576" y="75.5" textLength="19" lengthAdjust="spacingAndGlyphs">1.0</text>
<text x="576" y="157.5" textLength="19" lengthAdjust="spacingAndGlyphs">0.5</text>
<text x="576" y="239.5" textLength="19" lengthAdjust="spacingAndGlyphs">0.0</text>
<text x="563" y="322.5" textLength="32" lengthAdjust="spacingAndGlyphs">−0.5</text>
<text x="563" y="405.5" textLength="32" lengthAdjust="spacingAndGlyphs">−1.0</text>
<text x="563" y="487.5" textLength="32" lengthAdjust="spacingAndGlyphs">−1.5</text>
</g>
<g id="titles" class="tx">
<text x="157" y="62" font-size="28" textLength="306" lengthAdjust="spacingAndGlyphs">Affirmative Statements</text>
<text x="681" y="62" font-size="28" textLength="273" lengthAdjust="spacingAndGlyphs">Negated Statements</text>
<text y="32" font-size="28"><tspan x="308" textLength="359" lengthAdjust="spacingAndGlyphs">Projection of activations on</tspan><tspan class="it" x="676" textLength="9" lengthAdjust="spacingAndGlyphs">t</tspan><tspan class="it" x="685" y="36" font-size="19.6" textLength="13" lengthAdjust="spacingAndGlyphs">G</tspan><tspan x="710" y="32" textLength="47.5" lengthAdjust="spacingAndGlyphs">and</tspan><tspan class="it" x="768" textLength="9" lengthAdjust="spacingAndGlyphs">t</tspan><tspan class="it" x="777" y="36" font-size="19.6" textLength="11" lengthAdjust="spacingAndGlyphs">P</tspan></text>
</g>
<g id="xlabel" class="tx"><text class="it" font-size="27.5"><tspan x="283" y="587" textLength="16" lengthAdjust="spacingAndGlyphs">a</tspan><tspan x="300" y="595" font-size="19.5" textLength="9" lengthAdjust="spacingAndGlyphs">ij</tspan><tspan x="299" y="578" font-size="19.5" textLength="13" lengthAdjust="spacingAndGlyphs">T</tspan><tspan x="313" y="587" textLength="9" lengthAdjust="spacingAndGlyphs">t</tspan><tspan x="322" y="592" font-size="19.5" textLength="14" lengthAdjust="spacingAndGlyphs">G</tspan></text></g>
<g id="ylabel" class="tx" transform="translate(35,326) rotate(-90) translate(-284,-587)"><text class="it" font-size="27.5"><tspan x="283" y="587" textLength="16" lengthAdjust="spacingAndGlyphs">a</tspan><tspan x="300" y="595" font-size="19.5" textLength="9" lengthAdjust="spacingAndGlyphs">ij</tspan><tspan x="299" y="578" font-size="19.5" textLength="13" lengthAdjust="spacingAndGlyphs">T</tspan><tspan x="313" y="587" textLength="9" lengthAdjust="spacingAndGlyphs">t</tspan><tspan x="322" y="592" font-size="19.5" textLength="11" lengthAdjust="spacingAndGlyphs">P</tspan></text></g>
<g id="legend">
<rect x="854.5" y="83.5" width="162" height="86" rx="4" ry="4" fill="#fff" fill-opacity="0.8" stroke="#ccc" stroke-width="1.1"/>
<circle cx="891.5" cy="107.3" r="5" fill="#f00"/>
<circle cx="891.5" cy="146.5" r="5" fill="#00f"/>
<g class="tx">
<text x="939" y="114" font-size="28" textLength="65" lengthAdjust="spacingAndGlyphs">False</text>
<text x="939" y="153" font-size="28" textLength="55" lengthAdjust="spacingAndGlyphs">True</text>
</g>
</g>
</svg>
</body></html>
